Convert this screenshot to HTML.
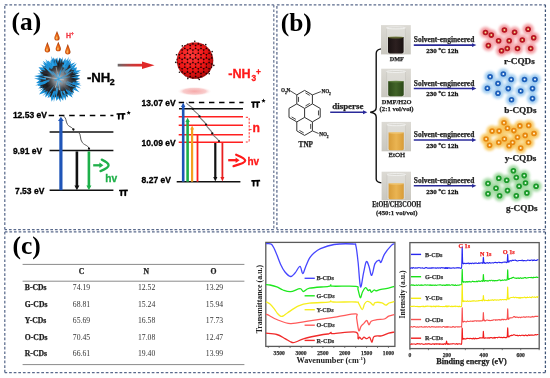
<!DOCTYPE html>
<html><head><meta charset="utf-8"><style>
html,body{margin:0;padding:0;background:#fff;}
body{width:550px;height:378px;overflow:hidden;font-family:"Liberation Sans",sans-serif;}
svg{display:block;will-change:transform;}
</style></head><body>
<svg width="550" height="378" viewBox="0 0 550 378">
<rect width="550" height="378" fill="#fff"/>
<defs>
<linearGradient id="garr" x1="0" x2="1" y1="0" y2="0"><stop offset="0" stop-color="#6a6a6a"/><stop offset="0.55" stop-color="#c83a3a"/><stop offset="1" stop-color="#e82828"/></linearGradient>
<radialGradient id="gred" cx="0.4" cy="0.36" r="0.72"><stop offset="0" stop-color="#ff3c3c"/><stop offset="0.55" stop-color="#f01616"/><stop offset="0.85" stop-color="#c00c0c"/><stop offset="1" stop-color="#900606"/></radialGradient>
<radialGradient id="gcore" cx="0.5" cy="0.5" r="0.5"><stop offset="0" stop-color="#c4c8cc"/><stop offset="0.45" stop-color="#868a90"/><stop offset="1" stop-color="#505258" stop-opacity="0"/></radialGradient>
<radialGradient id="gshadow" cx="0.5" cy="0.5" r="0.5"><stop offset="0" stop-color="#f6aaaa"/><stop offset="0.65" stop-color="#f9cccc"/><stop offset="1" stop-color="#fff" stop-opacity="0"/></radialGradient>
<radialGradient id="gdrop" cx="0.45" cy="0.65" r="0.62"><stop offset="0" stop-color="#f89838"/><stop offset="0.5" stop-color="#dc5810"/><stop offset="1" stop-color="#8a3006"/></radialGradient>
<filter id="blur1" x="-50%" y="-50%" width="200%" height="200%"><feGaussianBlur stdDeviation="1.2"/></filter>
<filter id="blur05" x="-50%" y="-50%" width="200%" height="200%"><feGaussianBlur stdDeviation="0.45"/></filter>
<filter id="blur08" x="-50%" y="-50%" width="200%" height="200%"><feGaussianBlur stdDeviation="0.9"/></filter>
<filter id="blur2" x="-50%" y="-50%" width="200%" height="200%"><feGaussianBlur stdDeviation="1.5"/></filter>
</defs>
<line x1="4.80" y1="4.80" x2="273.80" y2="4.80" stroke="#5a6a8c" stroke-width="1.25" stroke-dasharray="2.7 1.9"/>
<line x1="273.80" y1="4.80" x2="273.80" y2="229.60" stroke="#6a7896" stroke-width="1.25" stroke-dasharray="2.7 1.9"/>
<line x1="273.80" y1="229.60" x2="4.80" y2="229.60" stroke="#5a6a8c" stroke-width="1.25" stroke-dasharray="2.7 1.9"/>
<line x1="4.80" y1="229.60" x2="4.80" y2="4.80" stroke="#5a6a8c" stroke-width="1.25" stroke-dasharray="2.7 1.9"/>
<line x1="276.90" y1="4.80" x2="545.40" y2="4.80" stroke="#5a6a8c" stroke-width="1.25" stroke-dasharray="2.7 1.9"/>
<line x1="545.40" y1="4.80" x2="545.40" y2="229.60" stroke="#3e5476" stroke-width="1.25" stroke-dasharray="2.7 1.9"/>
<line x1="545.40" y1="229.60" x2="276.90" y2="229.60" stroke="#5a6a8c" stroke-width="1.25" stroke-dasharray="2.7 1.9"/>
<line x1="276.90" y1="229.60" x2="276.90" y2="4.80" stroke="#5a6a8c" stroke-width="1.25" stroke-dasharray="2.7 1.9"/>
<line x1="4.80" y1="231.90" x2="545.40" y2="231.90" stroke="#5a6a8c" stroke-width="1.25" stroke-dasharray="2.7 1.9"/>
<line x1="545.40" y1="231.90" x2="545.40" y2="372.50" stroke="#3e5476" stroke-width="1.25" stroke-dasharray="2.7 1.9"/>
<line x1="545.40" y1="372.50" x2="4.80" y2="372.50" stroke="#5a6a8c" stroke-width="1.25" stroke-dasharray="2.7 1.9"/>
<line x1="4.80" y1="372.50" x2="4.80" y2="231.90" stroke="#5a6a8c" stroke-width="1.25" stroke-dasharray="2.7 1.9"/>
<text x="11.60" y="30.30" font-family="Liberation Serif, serif" font-size="25.4" font-weight="bold" fill="#000" text-anchor="start" >(a)</text>
<text x="280.80" y="30.90" font-family="Liberation Serif, serif" font-size="25.4" font-weight="bold" fill="#000" text-anchor="start" >(b)</text>
<text x="12.60" y="254.40" font-family="Liberation Serif, serif" font-size="25.4" font-weight="bold" fill="#000" text-anchor="start" >(c)</text>
<path d="M57.00,31.00 C58.30,34.33 59.60,36.86 59.60,37.90 A2.60,2.60 0 0 1 54.40,37.90 C54.40,36.86 55.70,34.33 57.00,31.00 Z" fill="url(#gdrop)"/>
<ellipse cx="56.61" cy="38.16" rx="0.91" ry="1.30" fill="#ffc870" opacity="0.7"/>
<path d="M47.40,42.00 C48.75,45.67 50.10,48.72 50.10,49.80 A2.70,2.70 0 0 1 44.70,49.80 C44.70,48.72 46.05,45.67 47.40,42.00 Z" fill="url(#gdrop)"/>
<ellipse cx="46.99" cy="50.07" rx="0.94" ry="1.35" fill="#ffc870" opacity="0.7"/>
<path d="M58.30,41.80 C59.60,45.12 60.90,47.66 60.90,48.70 A2.60,2.60 0 0 1 55.70,48.70 C55.70,47.66 57.00,45.12 58.30,41.80 Z" fill="url(#gdrop)"/>
<ellipse cx="57.91" cy="48.96" rx="0.91" ry="1.30" fill="#ffc870" opacity="0.7"/>
<path d="M67.80,44.00 C69.15,47.67 70.50,50.72 70.50,51.80 A2.70,2.70 0 0 1 65.10,51.80 C65.10,50.72 66.45,47.67 67.80,44.00 Z" fill="url(#gdrop)"/>
<ellipse cx="67.39" cy="52.07" rx="0.94" ry="1.35" fill="#ffc870" opacity="0.7"/>
<text x="65.90" y="37.90" font-family="Liberation Sans, sans-serif" font-size="7.0" font-weight="bold" stroke="#f23844" stroke-width="0.3" fill="#f23844" text-anchor="start" >H</text>
<text x="70.90" y="35.00" font-family="Liberation Sans, sans-serif" font-size="4.6" font-weight="bold" stroke="#f23844" stroke-width="0.3" fill="#f23844" text-anchor="start" >+</text>
<g filter="url(#blur05)">
<polygon points="80.10,78.62 75.62,80.43 80.74,82.14 76.53,81.92 80.65,84.12 74.97,84.07 80.87,88.52 74.38,86.49 79.52,92.15 73.12,89.49 74.28,93.14 71.01,91.55 73.70,94.16 70.80,93.54 72.55,97.62 67.60,94.45 68.19,97.92 66.18,94.74 65.72,100.53 63.81,96.68 63.12,100.71 60.51,97.64 60.68,102.20 58.45,98.19 56.48,101.06 55.33,96.00 53.80,102.57 54.20,96.71 51.61,101.65 50.71,95.71 47.53,98.36 48.59,94.60 45.19,97.54 45.78,93.60 42.40,96.33 45.37,92.39 38.90,94.47 43.71,88.74 38.41,91.53 42.80,88.11 39.10,88.20 40.97,86.12 37.56,85.71 39.77,83.11 36.07,83.05 39.33,80.22 34.06,78.22 40.48,78.17 34.15,76.00 41.67,74.69 37.20,73.77 41.18,73.36 38.35,70.03 42.08,71.50 38.47,67.17 43.71,67.52 40.32,64.16 46.19,67.09 42.75,60.73 47.07,63.83 45.27,60.68 48.22,63.52 47.90,60.56 51.10,63.24 51.08,59.13 52.98,62.52 53.06,57.21 54.99,60.14 57.27,57.44 58.06,61.14 59.68,57.54 61.82,59.80 63.09,56.53 62.46,62.21 65.56,58.10 65.95,63.27 68.85,56.46 67.57,64.19 70.75,61.81 70.81,63.95 75.36,62.22 71.30,66.46 76.67,63.18 74.02,68.12 77.01,67.31 76.05,70.59 81.05,70.14 76.45,73.26 80.54,72.17 75.16,75.29 80.25,74.96 77.15,77.27" fill="#1f92d8" stroke="none" stroke-width="1" />
<polygon points="77.55,79.87 75.38,80.81 77.00,82.20 73.75,81.47 76.27,82.99 74.41,84.39 76.08,86.66 73.41,86.30 76.24,87.82 72.11,88.44 73.72,90.65 71.61,89.15 73.53,92.65 68.76,91.01 71.92,94.91 67.24,91.61 68.72,93.85 65.91,93.87 67.83,97.13 63.77,94.44 64.78,97.38 62.77,93.41 61.29,98.58 60.57,95.74 59.93,99.50 58.00,94.41 57.80,97.51 56.89,95.09 55.40,97.71 54.92,95.43 52.86,97.25 52.18,94.58 49.83,97.81 50.76,93.08 49.05,93.81 49.54,91.49 46.35,95.26 47.97,90.98 44.03,91.99 46.32,89.44 42.06,90.81 45.24,88.17 42.54,88.30 43.83,85.42 39.71,86.31 43.20,83.28 39.78,83.58 42.40,82.05 39.30,81.52 41.65,80.10 37.94,78.59 43.07,77.34 37.88,76.27 43.60,75.63 39.89,74.96 43.59,74.85 39.76,72.49 43.51,71.42 40.65,69.97 45.73,70.60 42.08,66.09 45.18,68.59 44.37,66.00 47.70,66.31 45.89,64.77 49.30,66.30 48.05,63.59 51.55,65.66 50.49,61.73 52.04,64.73 52.77,60.58 53.57,62.76 55.18,58.36 55.95,63.68 56.30,58.89 58.15,63.74 59.64,58.34 60.93,63.67 61.67,58.53 62.69,63.14 63.27,61.95 64.61,64.37 66.54,59.83 66.69,64.56 68.75,61.25 67.74,65.06 70.34,64.55 70.10,66.78 71.30,66.41 70.45,69.17 72.69,67.82 71.12,70.17 74.60,69.75 72.76,72.73 75.35,72.33 72.73,74.14 75.39,74.21 74.38,76.35 77.43,76.01 73.71,78.71" fill="#2a2c31" stroke="none" stroke-width="1" />
<polygon points="65.59,67.63 67.83,58.82 62.57,66.23" fill="#2aa0e4" stroke="none" stroke-width="1" />
<polygon points="71.42,77.77 79.10,75.11 70.98,75.44" fill="#1f92d8" stroke="none" stroke-width="1" />
<polygon points="66.63,67.38 69.80,59.13 64.33,66.07" fill="#2aa0e4" stroke="none" stroke-width="1" />
<polygon points="73.09,78.84 78.43,76.72 72.75,75.86" fill="#2aa0e4" stroke="none" stroke-width="1" />
<polygon points="46.92,82.95 37.65,88.69 48.02,85.31" fill="#1a86cc" stroke="none" stroke-width="1" />
<polygon points="53.43,67.13 48.40,60.48 51.27,68.31" fill="#2aa0e4" stroke="none" stroke-width="1" />
<polygon points="62.37,91.28 66.41,97.39 64.75,90.25" fill="#2aa0e4" stroke="none" stroke-width="1" />
<polygon points="72.24,78.41 79.29,75.39 71.64,74.92" fill="#2aa0e4" stroke="none" stroke-width="1" />
<polygon points="59.97,91.51 62.81,100.07 62.06,91.08" fill="#2aa0e4" stroke="none" stroke-width="1" />
<polygon points="45.92,77.78 36.23,78.61 45.88,79.78" fill="#2aa0e4" stroke="none" stroke-width="1" />
<polygon points="64.78,68.19 67.76,58.34 62.38,67.12" fill="#2aa0e4" stroke="none" stroke-width="1" />
<polygon points="52.91,90.49 50.93,100.33 55.60,91.44" fill="#1f92d8" stroke="none" stroke-width="1" />
<polygon points="51.83,66.45 45.35,58.97 49.64,67.89" fill="#2aa0e4" stroke="none" stroke-width="1" />
<polygon points="57.50,65.47 54.60,58.08 54.56,66.02" fill="#1f92d8" stroke="none" stroke-width="1" />
<polygon points="72.05,84.39 81.61,85.52 72.87,81.50" fill="#1a86cc" stroke="none" stroke-width="1" />
<polygon points="55.94,65.63 51.21,56.04 52.88,66.60" fill="#1a86cc" stroke="none" stroke-width="1" />
<polygon points="67.10,67.34 70.57,58.58 64.57,65.84" fill="#1a86cc" stroke="none" stroke-width="1" />
<polygon points="53.67,65.73 49.89,59.81 51.80,66.57" fill="#1f92d8" stroke="none" stroke-width="1" />
<polygon points="49.84,66.82 44.37,62.54 47.78,68.60" fill="#1f92d8" stroke="none" stroke-width="1" />
<polygon points="49.86,68.05 42.48,62.41 47.86,69.98" fill="#1f92d8" stroke="none" stroke-width="1" />
<polygon points="46.27,80.61 35.18,85.47 47.19,83.92" fill="#1f92d8" stroke="none" stroke-width="1" />
<polygon points="52.93,68.08 45.92,59.37 50.91,69.38" fill="#1f92d8" stroke="none" stroke-width="1" />
<polygon points="66.69,69.22 71.79,59.74 64.74,67.87" fill="#1a86cc" stroke="none" stroke-width="1" />
<polygon points="72.04,78.32 79.97,75.70 71.62,75.59" fill="#1a86cc" stroke="none" stroke-width="1" />
<polygon points="54.55,90.54 53.19,101.22 56.81,91.08" fill="#1a86cc" stroke="none" stroke-width="1" />
<polygon points="65.17,89.95 72.53,97.66 67.16,88.45" fill="#1a86cc" stroke="none" stroke-width="1" />
<polygon points="66.17,90.19 73.33,95.50 68.81,87.81" fill="#1f92d8" stroke="none" stroke-width="1" />
<polygon points="54.84,65.39 50.93,59.08 52.19,66.39" fill="#2aa0e4" stroke="none" stroke-width="1" />
<polygon points="49.34,79.57 36.56,83.78 49.94,82.29" fill="#1f92d8" stroke="none" stroke-width="1" />
<polygon points="68.33,78.97 74.46,76.79 67.97,76.36" fill="#2aa0e4" stroke="none" stroke-width="1" />
<polygon points="66.36,78.51 75.89,75.47 65.93,76.38" fill="#3a3d42" stroke="none" stroke-width="1" />
<polygon points="63.66,82.89 77.11,88.42 64.69,80.86" fill="#1f92d8" stroke="none" stroke-width="1" />
<polygon points="63.48,87.01 71.48,93.29 66.00,84.73" fill="#1f92d8" stroke="none" stroke-width="1" />
<polygon points="58.70,88.63 60.74,98.03 60.54,88.42" fill="#1c1d20" stroke="none" stroke-width="1" />
<polygon points="67.28,77.78 76.22,73.24 66.32,74.82" fill="#1c1d20" stroke="none" stroke-width="1" />
<polygon points="53.71,84.53 46.55,96.83 55.21,85.54" fill="#1f92d8" stroke="none" stroke-width="1" />
<polygon points="63.25,74.33 70.20,60.34 60.64,72.69" fill="#1f92d8" stroke="none" stroke-width="1" />
<polygon points="56.69,85.22 58.13,97.53 60.06,85.29" fill="#1c1d20" stroke="none" stroke-width="1" />
<polygon points="52.83,84.32 47.10,92.66 54.28,85.52" fill="#1c1d20" stroke="none" stroke-width="1" />
<polygon points="66.37,82.74 77.58,85.41 67.03,80.78" fill="#1f92d8" stroke="none" stroke-width="1" />
<polygon points="51.19,80.35 39.14,87.20 52.44,83.31" fill="#1c1d20" stroke="none" stroke-width="1" />
<polygon points="66.55,74.14 73.52,65.64 64.26,71.57" fill="#2aa0e4" stroke="none" stroke-width="1" />
<polygon points="50.52,74.81 42.95,74.03 49.57,77.78" fill="#1c1d20" stroke="none" stroke-width="1" />
<polygon points="54.46,73.66 42.25,64.69 52.70,75.67" fill="#2aa0e4" stroke="none" stroke-width="1" />
<polygon points="63.16,85.47 71.20,92.08 64.83,83.84" fill="#1f92d8" stroke="none" stroke-width="1" />
<polygon points="51.88,81.62 42.59,89.64 53.55,84.11" fill="#1c1d20" stroke="none" stroke-width="1" />
<polygon points="60.31,85.62 67.11,94.06 63.29,83.92" fill="#1c1d20" stroke="none" stroke-width="1" />
<polygon points="51.57,75.06 41.24,73.35 50.58,78.07" fill="#1c1d20" stroke="none" stroke-width="1" />
<polygon points="61.90,84.98 69.11,91.76 63.76,83.43" fill="#1c1d20" stroke="none" stroke-width="1" />
<polygon points="54.37,85.32 49.53,98.28 56.33,86.23" fill="#1c1d20" stroke="none" stroke-width="1" />
<polygon points="59.86,71.35 58.46,60.31 57.11,71.35" fill="#1c1d20" stroke="none" stroke-width="1" />
<polygon points="55.95,87.76 56.06,98.08 58.76,88.12" fill="#1f92d8" stroke="none" stroke-width="1" />
<polygon points="62.94,85.88 72.63,93.29 65.33,83.52" fill="#3a3d42" stroke="none" stroke-width="1" />
<polygon points="65.70,85.51 73.96,89.17 67.32,83.03" fill="#1c1d20" stroke="none" stroke-width="1" />
<polygon points="67.77,77.20 79.27,72.82 67.24,75.44" fill="#1c1d20" stroke="none" stroke-width="1" />
<polygon points="49.62,81.52 39.57,88.61 51.23,84.68" fill="#1c1d20" stroke="none" stroke-width="1" />
<polygon points="66.06,80.65 80.52,79.02 66.07,77.37" fill="#1c1d20" stroke="none" stroke-width="1" />
<polygon points="65.57,78.81 74.96,76.10 65.21,76.76" fill="#2aa0e4" stroke="none" stroke-width="1" />
<polygon points="65.10,79.38 79.53,75.25 64.57,76.36" fill="#1c1d20" stroke="none" stroke-width="1" />
<polygon points="65.82,84.51 72.28,87.15 66.85,82.76" fill="#2aa0e4" stroke="none" stroke-width="1" />
<polygon points="66.51,75.75 74.25,70.33 65.53,73.97" fill="#1f92d8" stroke="none" stroke-width="1" />
<polygon points="51.05,76.66 37.86,75.30 50.70,78.61" fill="#1f92d8" stroke="none" stroke-width="1" />
<circle cx="59.5" cy="79.0" r="14" fill="url(#gcore)" opacity="0.9"/>
<line x1="64.13" y1="79.87" x2="44.42" y2="76.82" stroke="#c8ccd0" stroke-width="0.7304409400507176" opacity="0.8"/>
<line x1="57.59" y1="82.49" x2="60.77" y2="70.28" stroke="#1f90d6" stroke-width="1.0981870258625248" opacity="0.8"/>
<line x1="59.35" y1="74.34" x2="56.38" y2="90.66" stroke="#3aa8e8" stroke-width="0.8376521100337718" opacity="0.8"/>
<line x1="58.07" y1="74.53" x2="59.57" y2="90.17" stroke="#c8ccd0" stroke-width="0.9523268314065412" opacity="0.8"/>
<line x1="59.80" y1="75.56" x2="55.25" y2="87.60" stroke="#c8ccd0" stroke-width="1.0424242625924323" opacity="0.8"/>
<line x1="60.84" y1="82.11" x2="52.64" y2="71.23" stroke="#3aa8e8" stroke-width="0.9336775244188398" opacity="0.8"/>
<line x1="54.56" y1="81.00" x2="68.34" y2="74.00" stroke="#2a9ee0" stroke-width="0.9479113926665916" opacity="0.8"/>
<line x1="59.47" y1="83.81" x2="56.08" y2="66.98" stroke="#c8ccd0" stroke-width="0.6990398191167171" opacity="0.8"/>
<line x1="56.68" y1="84.99" x2="63.06" y2="64.03" stroke="#2a9ee0" stroke-width="0.7026092935193167" opacity="0.8"/>
<line x1="53.86" y1="79.89" x2="70.09" y2="76.78" stroke="#3aa8e8" stroke-width="0.7154044064324874" opacity="0.8"/>
<line x1="57.37" y1="72.76" x2="61.33" y2="94.59" stroke="#1f90d6" stroke-width="0.6545040329990047" opacity="0.8"/>
<line x1="62.63" y1="83.06" x2="48.16" y2="68.84" stroke="#3aa8e8" stroke-width="0.8425263688602637" opacity="0.8"/>
</g>
<text x="86.90" y="81.50" font-family="Liberation Sans, sans-serif" font-size="13.2" font-weight="bold" stroke="#000" stroke-width="0.3" fill="#000" text-anchor="start" >-NH</text>
<text x="109.80" y="84.70" font-family="Liberation Sans, sans-serif" font-size="8.8" font-weight="bold" stroke="#000" stroke-width="0.3" fill="#000" text-anchor="start" >2</text>
<rect x="117.7" y="63.8" width="26" height="2.7" fill="url(#garr)"/>
<polygon points="142.00,61.60 154.50,65.15 142.00,68.90" fill="#e02828" stroke="none" stroke-width="1" />
<ellipse cx="194.5" cy="91.3" rx="17.5" ry="4.6" fill="url(#gshadow)" filter="url(#blur05)"/>
<circle cx="195" cy="60.6" r="18.2" fill="url(#gred)"/>
<clipPath id="cball"><circle cx="195" cy="60.6" r="18.5"/></clipPath>
<g clip-path="url(#cball)">
<path d="M165.90,34.50 L163.20,36.06 L160.50,34.50 L160.50,31.38 L163.20,29.82 L165.90,31.38 Z M171.30,34.50 L168.60,36.06 L165.90,34.50 L165.90,31.38 L168.60,29.82 L171.30,31.38 Z M176.70,34.50 L174.00,36.06 L171.30,34.50 L171.30,31.38 L174.00,29.82 L176.70,31.38 Z M182.10,34.50 L179.40,36.06 L176.70,34.50 L176.70,31.38 L179.40,29.82 L182.10,31.38 Z M187.50,34.50 L184.80,36.06 L182.10,34.50 L182.10,31.38 L184.80,29.82 L187.50,31.38 Z M192.90,34.50 L190.20,36.06 L187.50,34.50 L187.50,31.38 L190.20,29.82 L192.90,31.38 Z M198.30,34.50 L195.60,36.06 L192.90,34.50 L192.90,31.38 L195.60,29.82 L198.30,31.38 Z M203.70,34.50 L201.00,36.06 L198.30,34.50 L198.30,31.38 L201.00,29.82 L203.70,31.38 Z M209.10,34.50 L206.40,36.06 L203.70,34.50 L203.70,31.38 L206.40,29.82 L209.10,31.38 Z M214.50,34.50 L211.80,36.06 L209.10,34.50 L209.10,31.38 L211.80,29.82 L214.50,31.38 Z M219.90,34.50 L217.20,36.06 L214.50,34.50 L214.50,31.38 L217.20,29.82 L219.90,31.38 Z M225.30,34.50 L222.60,36.06 L219.90,34.50 L219.90,31.38 L222.60,29.82 L225.30,31.38 Z M230.70,34.50 L228.00,36.06 L225.30,34.50 L225.30,31.38 L228.00,29.82 L230.70,31.38 Z M168.60,39.18 L165.90,40.74 L163.20,39.18 L163.20,36.06 L165.90,34.50 L168.60,36.06 Z M174.00,39.18 L171.30,40.74 L168.60,39.18 L168.60,36.06 L171.30,34.50 L174.00,36.06 Z M179.40,39.18 L176.70,40.74 L174.00,39.18 L174.00,36.06 L176.70,34.50 L179.40,36.06 Z M184.80,39.18 L182.10,40.74 L179.40,39.18 L179.40,36.06 L182.10,34.50 L184.80,36.06 Z M190.20,39.18 L187.50,40.74 L184.80,39.18 L184.80,36.06 L187.50,34.50 L190.20,36.06 Z M195.60,39.18 L192.90,40.74 L190.20,39.18 L190.20,36.06 L192.90,34.50 L195.60,36.06 Z M201.00,39.18 L198.30,40.74 L195.60,39.18 L195.60,36.06 L198.30,34.50 L201.00,36.06 Z M206.40,39.18 L203.70,40.74 L201.00,39.18 L201.00,36.06 L203.70,34.50 L206.40,36.06 Z M211.80,39.18 L209.10,40.74 L206.40,39.18 L206.40,36.06 L209.10,34.50 L211.80,36.06 Z M217.20,39.18 L214.50,40.74 L211.80,39.18 L211.80,36.06 L214.50,34.50 L217.20,36.06 Z M222.60,39.18 L219.90,40.74 L217.20,39.18 L217.20,36.06 L219.90,34.50 L222.60,36.06 Z M228.00,39.18 L225.30,40.74 L222.60,39.18 L222.60,36.06 L225.30,34.50 L228.00,36.06 Z M233.40,39.18 L230.70,40.74 L228.00,39.18 L228.00,36.06 L230.70,34.50 L233.40,36.06 Z M165.90,43.85 L163.20,45.41 L160.50,43.85 L160.50,40.74 L163.20,39.18 L165.90,40.74 Z M171.30,43.85 L168.60,45.41 L165.90,43.85 L165.90,40.74 L168.60,39.18 L171.30,40.74 Z M176.70,43.85 L174.00,45.41 L171.30,43.85 L171.30,40.74 L174.00,39.18 L176.70,40.74 Z M182.10,43.85 L179.40,45.41 L176.70,43.85 L176.70,40.74 L179.40,39.18 L182.10,40.74 Z M187.50,43.85 L184.80,45.41 L182.10,43.85 L182.10,40.74 L184.80,39.18 L187.50,40.74 Z M192.90,43.85 L190.20,45.41 L187.50,43.85 L187.50,40.74 L190.20,39.18 L192.90,40.74 Z M198.30,43.85 L195.60,45.41 L192.90,43.85 L192.90,40.74 L195.60,39.18 L198.30,40.74 Z M203.70,43.85 L201.00,45.41 L198.30,43.85 L198.30,40.74 L201.00,39.18 L203.70,40.74 Z M209.10,43.85 L206.40,45.41 L203.70,43.85 L203.70,40.74 L206.40,39.18 L209.10,40.74 Z M214.50,43.85 L211.80,45.41 L209.10,43.85 L209.10,40.74 L211.80,39.18 L214.50,40.74 Z M219.90,43.85 L217.20,45.41 L214.50,43.85 L214.50,40.74 L217.20,39.18 L219.90,40.74 Z M225.30,43.85 L222.60,45.41 L219.90,43.85 L219.90,40.74 L222.60,39.18 L225.30,40.74 Z M230.70,43.85 L228.00,45.41 L225.30,43.85 L225.30,40.74 L228.00,39.18 L230.70,40.74 Z M168.60,48.53 L165.90,50.09 L163.20,48.53 L163.20,45.41 L165.90,43.85 L168.60,45.41 Z M174.00,48.53 L171.30,50.09 L168.60,48.53 L168.60,45.41 L171.30,43.85 L174.00,45.41 Z M179.40,48.53 L176.70,50.09 L174.00,48.53 L174.00,45.41 L176.70,43.85 L179.40,45.41 Z M184.80,48.53 L182.10,50.09 L179.40,48.53 L179.40,45.41 L182.10,43.85 L184.80,45.41 Z M190.20,48.53 L187.50,50.09 L184.80,48.53 L184.80,45.41 L187.50,43.85 L190.20,45.41 Z M195.60,48.53 L192.90,50.09 L190.20,48.53 L190.20,45.41 L192.90,43.85 L195.60,45.41 Z M201.00,48.53 L198.30,50.09 L195.60,48.53 L195.60,45.41 L198.30,43.85 L201.00,45.41 Z M206.40,48.53 L203.70,50.09 L201.00,48.53 L201.00,45.41 L203.70,43.85 L206.40,45.41 Z M211.80,48.53 L209.10,50.09 L206.40,48.53 L206.40,45.41 L209.10,43.85 L211.80,45.41 Z M217.20,48.53 L214.50,50.09 L211.80,48.53 L211.80,45.41 L214.50,43.85 L217.20,45.41 Z M222.60,48.53 L219.90,50.09 L217.20,48.53 L217.20,45.41 L219.90,43.85 L222.60,45.41 Z M228.00,48.53 L225.30,50.09 L222.60,48.53 L222.60,45.41 L225.30,43.85 L228.00,45.41 Z M233.40,48.53 L230.70,50.09 L228.00,48.53 L228.00,45.41 L230.70,43.85 L233.40,45.41 Z M165.90,53.21 L163.20,54.76 L160.50,53.21 L160.50,50.09 L163.20,48.53 L165.90,50.09 Z M171.30,53.21 L168.60,54.76 L165.90,53.21 L165.90,50.09 L168.60,48.53 L171.30,50.09 Z M176.70,53.21 L174.00,54.76 L171.30,53.21 L171.30,50.09 L174.00,48.53 L176.70,50.09 Z M182.10,53.21 L179.40,54.76 L176.70,53.21 L176.70,50.09 L179.40,48.53 L182.10,50.09 Z M187.50,53.21 L184.80,54.76 L182.10,53.21 L182.10,50.09 L184.80,48.53 L187.50,50.09 Z M192.90,53.21 L190.20,54.76 L187.50,53.21 L187.50,50.09 L190.20,48.53 L192.90,50.09 Z M198.30,53.21 L195.60,54.76 L192.90,53.21 L192.90,50.09 L195.60,48.53 L198.30,50.09 Z M203.70,53.21 L201.00,54.76 L198.30,53.21 L198.30,50.09 L201.00,48.53 L203.70,50.09 Z M209.10,53.21 L206.40,54.76 L203.70,53.21 L203.70,50.09 L206.40,48.53 L209.10,50.09 Z M214.50,53.21 L211.80,54.76 L209.10,53.21 L209.10,50.09 L211.80,48.53 L214.50,50.09 Z M219.90,53.21 L217.20,54.76 L214.50,53.21 L214.50,50.09 L217.20,48.53 L219.90,50.09 Z M225.30,53.21 L222.60,54.76 L219.90,53.21 L219.90,50.09 L222.60,48.53 L225.30,50.09 Z M230.70,53.21 L228.00,54.76 L225.30,53.21 L225.30,50.09 L228.00,48.53 L230.70,50.09 Z M168.60,57.88 L165.90,59.44 L163.20,57.88 L163.20,54.76 L165.90,53.21 L168.60,54.76 Z M174.00,57.88 L171.30,59.44 L168.60,57.88 L168.60,54.76 L171.30,53.21 L174.00,54.76 Z M179.40,57.88 L176.70,59.44 L174.00,57.88 L174.00,54.76 L176.70,53.21 L179.40,54.76 Z M184.80,57.88 L182.10,59.44 L179.40,57.88 L179.40,54.76 L182.10,53.21 L184.80,54.76 Z M190.20,57.88 L187.50,59.44 L184.80,57.88 L184.80,54.76 L187.50,53.21 L190.20,54.76 Z M195.60,57.88 L192.90,59.44 L190.20,57.88 L190.20,54.76 L192.90,53.21 L195.60,54.76 Z M201.00,57.88 L198.30,59.44 L195.60,57.88 L195.60,54.76 L198.30,53.21 L201.00,54.76 Z M206.40,57.88 L203.70,59.44 L201.00,57.88 L201.00,54.76 L203.70,53.21 L206.40,54.76 Z M211.80,57.88 L209.10,59.44 L206.40,57.88 L206.40,54.76 L209.10,53.21 L211.80,54.76 Z M217.20,57.88 L214.50,59.44 L211.80,57.88 L211.80,54.76 L214.50,53.21 L217.20,54.76 Z M222.60,57.88 L219.90,59.44 L217.20,57.88 L217.20,54.76 L219.90,53.21 L222.60,54.76 Z M228.00,57.88 L225.30,59.44 L222.60,57.88 L222.60,54.76 L225.30,53.21 L228.00,54.76 Z M233.40,57.88 L230.70,59.44 L228.00,57.88 L228.00,54.76 L230.70,53.21 L233.40,54.76 Z M165.90,62.56 L163.20,64.12 L160.50,62.56 L160.50,59.44 L163.20,57.88 L165.90,59.44 Z M171.30,62.56 L168.60,64.12 L165.90,62.56 L165.90,59.44 L168.60,57.88 L171.30,59.44 Z M176.70,62.56 L174.00,64.12 L171.30,62.56 L171.30,59.44 L174.00,57.88 L176.70,59.44 Z M182.10,62.56 L179.40,64.12 L176.70,62.56 L176.70,59.44 L179.40,57.88 L182.10,59.44 Z M187.50,62.56 L184.80,64.12 L182.10,62.56 L182.10,59.44 L184.80,57.88 L187.50,59.44 Z M192.90,62.56 L190.20,64.12 L187.50,62.56 L187.50,59.44 L190.20,57.88 L192.90,59.44 Z M198.30,62.56 L195.60,64.12 L192.90,62.56 L192.90,59.44 L195.60,57.88 L198.30,59.44 Z M203.70,62.56 L201.00,64.12 L198.30,62.56 L198.30,59.44 L201.00,57.88 L203.70,59.44 Z M209.10,62.56 L206.40,64.12 L203.70,62.56 L203.70,59.44 L206.40,57.88 L209.10,59.44 Z M214.50,62.56 L211.80,64.12 L209.10,62.56 L209.10,59.44 L211.80,57.88 L214.50,59.44 Z M219.90,62.56 L217.20,64.12 L214.50,62.56 L214.50,59.44 L217.20,57.88 L219.90,59.44 Z M225.30,62.56 L222.60,64.12 L219.90,62.56 L219.90,59.44 L222.60,57.88 L225.30,59.44 Z M230.70,62.56 L228.00,64.12 L225.30,62.56 L225.30,59.44 L228.00,57.88 L230.70,59.44 Z M168.60,67.24 L165.90,68.79 L163.20,67.24 L163.20,64.12 L165.90,62.56 L168.60,64.12 Z M174.00,67.24 L171.30,68.79 L168.60,67.24 L168.60,64.12 L171.30,62.56 L174.00,64.12 Z M179.40,67.24 L176.70,68.79 L174.00,67.24 L174.00,64.12 L176.70,62.56 L179.40,64.12 Z M184.80,67.24 L182.10,68.79 L179.40,67.24 L179.40,64.12 L182.10,62.56 L184.80,64.12 Z M190.20,67.24 L187.50,68.79 L184.80,67.24 L184.80,64.12 L187.50,62.56 L190.20,64.12 Z M195.60,67.24 L192.90,68.79 L190.20,67.24 L190.20,64.12 L192.90,62.56 L195.60,64.12 Z M201.00,67.24 L198.30,68.79 L195.60,67.24 L195.60,64.12 L198.30,62.56 L201.00,64.12 Z M206.40,67.24 L203.70,68.79 L201.00,67.24 L201.00,64.12 L203.70,62.56 L206.40,64.12 Z M211.80,67.24 L209.10,68.79 L206.40,67.24 L206.40,64.12 L209.10,62.56 L211.80,64.12 Z M217.20,67.24 L214.50,68.79 L211.80,67.24 L211.80,64.12 L214.50,62.56 L217.20,64.12 Z M222.60,67.24 L219.90,68.79 L217.20,67.24 L217.20,64.12 L219.90,62.56 L222.60,64.12 Z M228.00,67.24 L225.30,68.79 L222.60,67.24 L222.60,64.12 L225.30,62.56 L228.00,64.12 Z M233.40,67.24 L230.70,68.79 L228.00,67.24 L228.00,64.12 L230.70,62.56 L233.40,64.12 Z M165.90,71.91 L163.20,73.47 L160.50,71.91 L160.50,68.79 L163.20,67.24 L165.90,68.79 Z M171.30,71.91 L168.60,73.47 L165.90,71.91 L165.90,68.79 L168.60,67.24 L171.30,68.79 Z M176.70,71.91 L174.00,73.47 L171.30,71.91 L171.30,68.79 L174.00,67.24 L176.70,68.79 Z M182.10,71.91 L179.40,73.47 L176.70,71.91 L176.70,68.79 L179.40,67.24 L182.10,68.79 Z M187.50,71.91 L184.80,73.47 L182.10,71.91 L182.10,68.79 L184.80,67.24 L187.50,68.79 Z M192.90,71.91 L190.20,73.47 L187.50,71.91 L187.50,68.79 L190.20,67.24 L192.90,68.79 Z M198.30,71.91 L195.60,73.47 L192.90,71.91 L192.90,68.79 L195.60,67.24 L198.30,68.79 Z M203.70,71.91 L201.00,73.47 L198.30,71.91 L198.30,68.79 L201.00,67.24 L203.70,68.79 Z M209.10,71.91 L206.40,73.47 L203.70,71.91 L203.70,68.79 L206.40,67.24 L209.10,68.79 Z M214.50,71.91 L211.80,73.47 L209.10,71.91 L209.10,68.79 L211.80,67.24 L214.50,68.79 Z M219.90,71.91 L217.20,73.47 L214.50,71.91 L214.50,68.79 L217.20,67.24 L219.90,68.79 Z M225.30,71.91 L222.60,73.47 L219.90,71.91 L219.90,68.79 L222.60,67.24 L225.30,68.79 Z M230.70,71.91 L228.00,73.47 L225.30,71.91 L225.30,68.79 L228.00,67.24 L230.70,68.79 Z M168.60,76.59 L165.90,78.15 L163.20,76.59 L163.20,73.47 L165.90,71.91 L168.60,73.47 Z M174.00,76.59 L171.30,78.15 L168.60,76.59 L168.60,73.47 L171.30,71.91 L174.00,73.47 Z M179.40,76.59 L176.70,78.15 L174.00,76.59 L174.00,73.47 L176.70,71.91 L179.40,73.47 Z M184.80,76.59 L182.10,78.15 L179.40,76.59 L179.40,73.47 L182.10,71.91 L184.80,73.47 Z M190.20,76.59 L187.50,78.15 L184.80,76.59 L184.80,73.47 L187.50,71.91 L190.20,73.47 Z M195.60,76.59 L192.90,78.15 L190.20,76.59 L190.20,73.47 L192.90,71.91 L195.60,73.47 Z M201.00,76.59 L198.30,78.15 L195.60,76.59 L195.60,73.47 L198.30,71.91 L201.00,73.47 Z M206.40,76.59 L203.70,78.15 L201.00,76.59 L201.00,73.47 L203.70,71.91 L206.40,73.47 Z M211.80,76.59 L209.10,78.15 L206.40,76.59 L206.40,73.47 L209.10,71.91 L211.80,73.47 Z M217.20,76.59 L214.50,78.15 L211.80,76.59 L211.80,73.47 L214.50,71.91 L217.20,73.47 Z M222.60,76.59 L219.90,78.15 L217.20,76.59 L217.20,73.47 L219.90,71.91 L222.60,73.47 Z M228.00,76.59 L225.30,78.15 L222.60,76.59 L222.60,73.47 L225.30,71.91 L228.00,73.47 Z M233.40,76.59 L230.70,78.15 L228.00,76.59 L228.00,73.47 L230.70,71.91 L233.40,73.47 Z M165.90,81.26 L163.20,82.82 L160.50,81.26 L160.50,78.15 L163.20,76.59 L165.90,78.15 Z M171.30,81.26 L168.60,82.82 L165.90,81.26 L165.90,78.15 L168.60,76.59 L171.30,78.15 Z M176.70,81.26 L174.00,82.82 L171.30,81.26 L171.30,78.15 L174.00,76.59 L176.70,78.15 Z M182.10,81.26 L179.40,82.82 L176.70,81.26 L176.70,78.15 L179.40,76.59 L182.10,78.15 Z M187.50,81.26 L184.80,82.82 L182.10,81.26 L182.10,78.15 L184.80,76.59 L187.50,78.15 Z M192.90,81.26 L190.20,82.82 L187.50,81.26 L187.50,78.15 L190.20,76.59 L192.90,78.15 Z M198.30,81.26 L195.60,82.82 L192.90,81.26 L192.90,78.15 L195.60,76.59 L198.30,78.15 Z M203.70,81.26 L201.00,82.82 L198.30,81.26 L198.30,78.15 L201.00,76.59 L203.70,78.15 Z M209.10,81.26 L206.40,82.82 L203.70,81.26 L203.70,78.15 L206.40,76.59 L209.10,78.15 Z M214.50,81.26 L211.80,82.82 L209.10,81.26 L209.10,78.15 L211.80,76.59 L214.50,78.15 Z M219.90,81.26 L217.20,82.82 L214.50,81.26 L214.50,78.15 L217.20,76.59 L219.90,78.15 Z M225.30,81.26 L222.60,82.82 L219.90,81.26 L219.90,78.15 L222.60,76.59 L225.30,78.15 Z M230.70,81.26 L228.00,82.82 L225.30,81.26 L225.30,78.15 L228.00,76.59 L230.70,78.15 Z M168.60,85.94 L165.90,87.50 L163.20,85.94 L163.20,82.82 L165.90,81.26 L168.60,82.82 Z M174.00,85.94 L171.30,87.50 L168.60,85.94 L168.60,82.82 L171.30,81.26 L174.00,82.82 Z M179.40,85.94 L176.70,87.50 L174.00,85.94 L174.00,82.82 L176.70,81.26 L179.40,82.82 Z M184.80,85.94 L182.10,87.50 L179.40,85.94 L179.40,82.82 L182.10,81.26 L184.80,82.82 Z M190.20,85.94 L187.50,87.50 L184.80,85.94 L184.80,82.82 L187.50,81.26 L190.20,82.82 Z M195.60,85.94 L192.90,87.50 L190.20,85.94 L190.20,82.82 L192.90,81.26 L195.60,82.82 Z M201.00,85.94 L198.30,87.50 L195.60,85.94 L195.60,82.82 L198.30,81.26 L201.00,82.82 Z M206.40,85.94 L203.70,87.50 L201.00,85.94 L201.00,82.82 L203.70,81.26 L206.40,82.82 Z M211.80,85.94 L209.10,87.50 L206.40,85.94 L206.40,82.82 L209.10,81.26 L211.80,82.82 Z M217.20,85.94 L214.50,87.50 L211.80,85.94 L211.80,82.82 L214.50,81.26 L217.20,82.82 Z M222.60,85.94 L219.90,87.50 L217.20,85.94 L217.20,82.82 L219.90,81.26 L222.60,82.82 Z M228.00,85.94 L225.30,87.50 L222.60,85.94 L222.60,82.82 L225.30,81.26 L228.00,82.82 Z M233.40,85.94 L230.70,87.50 L228.00,85.94 L228.00,82.82 L230.70,81.26 L233.40,82.82 Z M165.90,90.62 L163.20,92.18 L160.50,90.62 L160.50,87.50 L163.20,85.94 L165.90,87.50 Z M171.30,90.62 L168.60,92.18 L165.90,90.62 L165.90,87.50 L168.60,85.94 L171.30,87.50 Z M176.70,90.62 L174.00,92.18 L171.30,90.62 L171.30,87.50 L174.00,85.94 L176.70,87.50 Z M182.10,90.62 L179.40,92.18 L176.70,90.62 L176.70,87.50 L179.40,85.94 L182.10,87.50 Z M187.50,90.62 L184.80,92.18 L182.10,90.62 L182.10,87.50 L184.80,85.94 L187.50,87.50 Z M192.90,90.62 L190.20,92.18 L187.50,90.62 L187.50,87.50 L190.20,85.94 L192.90,87.50 Z M198.30,90.62 L195.60,92.18 L192.90,90.62 L192.90,87.50 L195.60,85.94 L198.30,87.50 Z M203.70,90.62 L201.00,92.18 L198.30,90.62 L198.30,87.50 L201.00,85.94 L203.70,87.50 Z M209.10,90.62 L206.40,92.18 L203.70,90.62 L203.70,87.50 L206.40,85.94 L209.10,87.50 Z M214.50,90.62 L211.80,92.18 L209.10,90.62 L209.10,87.50 L211.80,85.94 L214.50,87.50 Z M219.90,90.62 L217.20,92.18 L214.50,90.62 L214.50,87.50 L217.20,85.94 L219.90,87.50 Z M225.30,90.62 L222.60,92.18 L219.90,90.62 L219.90,87.50 L222.60,85.94 L225.30,87.50 Z M230.70,90.62 L228.00,92.18 L225.30,90.62 L225.30,87.50 L228.00,85.94 L230.70,87.50 Z" fill="none" stroke="#3a0808" stroke-width="0.45" opacity="0.3"/>
<circle cx="203.7" cy="53.2" r="0.8" fill="#1a0303"/>
<circle cx="209.1" cy="53.2" r="0.8" fill="#1a0303"/>
<circle cx="187.5" cy="71.9" r="0.8" fill="#1a0303"/>
<circle cx="179.4" cy="54.8" r="0.8" fill="#1a0303"/>
<circle cx="198.3" cy="68.8" r="0.8" fill="#1a0303"/>
<circle cx="190.2" cy="64.1" r="0.8" fill="#1a0303"/>
<circle cx="182.1" cy="53.2" r="0.8" fill="#1a0303"/>
<circle cx="182.1" cy="50.1" r="0.8" fill="#1a0303"/>
<circle cx="187.5" cy="59.4" r="0.8" fill="#1a0303"/>
<circle cx="192.9" cy="68.8" r="0.8" fill="#1a0303"/>
<circle cx="198.3" cy="43.9" r="0.8" fill="#1a0303"/>
<circle cx="195.6" cy="57.9" r="0.8" fill="#1a0303"/>
<circle cx="195.6" cy="54.8" r="0.8" fill="#1a0303"/>
<circle cx="201.0" cy="57.9" r="0.8" fill="#1a0303"/>
<circle cx="201.0" cy="54.8" r="0.8" fill="#1a0303"/>
<circle cx="195.6" cy="73.5" r="0.8" fill="#1a0303"/>
<circle cx="192.9" cy="43.9" r="0.8" fill="#1a0303"/>
<circle cx="206.4" cy="48.5" r="0.8" fill="#1a0303"/>
<circle cx="201.0" cy="73.5" r="0.8" fill="#1a0303"/>
<circle cx="206.4" cy="45.4" r="0.8" fill="#1a0303"/>
<circle cx="203.7" cy="59.4" r="0.8" fill="#1a0303"/>
<circle cx="184.8" cy="57.9" r="0.8" fill="#1a0303"/>
<circle cx="182.1" cy="71.9" r="0.8" fill="#1a0303"/>
<circle cx="209.1" cy="59.4" r="0.8" fill="#1a0303"/>
<circle cx="192.9" cy="62.6" r="0.8" fill="#1a0303"/>
<circle cx="211.8" cy="64.1" r="0.8" fill="#1a0303"/>
<circle cx="190.2" cy="57.9" r="0.8" fill="#1a0303"/>
<circle cx="190.2" cy="54.8" r="0.8" fill="#1a0303"/>
<circle cx="182.1" cy="59.4" r="0.8" fill="#1a0303"/>
<circle cx="176.7" cy="59.4" r="0.8" fill="#1a0303"/>
<circle cx="190.2" cy="73.5" r="0.8" fill="#1a0303"/>
<circle cx="187.5" cy="43.9" r="0.8" fill="#1a0303"/>
<circle cx="203.7" cy="50.1" r="0.8" fill="#1a0303"/>
<circle cx="179.4" cy="67.2" r="0.8" fill="#1a0303"/>
<circle cx="184.8" cy="64.1" r="0.8" fill="#1a0303"/>
<circle cx="209.1" cy="50.1" r="0.8" fill="#1a0303"/>
<circle cx="187.5" cy="62.6" r="0.8" fill="#1a0303"/>
<circle cx="187.5" cy="78.1" r="0.8" fill="#1a0303"/>
<circle cx="195.6" cy="48.5" r="0.8" fill="#1a0303"/>
<circle cx="195.6" cy="76.6" r="0.8" fill="#1a0303"/>
<circle cx="201.0" cy="48.5" r="0.8" fill="#1a0303"/>
<circle cx="201.0" cy="76.6" r="0.8" fill="#1a0303"/>
<circle cx="198.3" cy="53.2" r="0.8" fill="#1a0303"/>
<circle cx="198.3" cy="50.1" r="0.8" fill="#1a0303"/>
<circle cx="195.6" cy="67.2" r="0.8" fill="#1a0303"/>
<circle cx="201.0" cy="67.2" r="0.8" fill="#1a0303"/>
<circle cx="206.4" cy="64.1" r="0.8" fill="#1a0303"/>
<circle cx="203.7" cy="71.9" r="0.8" fill="#1a0303"/>
<circle cx="211.8" cy="57.9" r="0.8" fill="#1a0303"/>
<circle cx="209.1" cy="71.9" r="0.8" fill="#1a0303"/>
<circle cx="211.8" cy="54.8" r="0.8" fill="#1a0303"/>
<circle cx="192.9" cy="53.2" r="0.8" fill="#1a0303"/>
<circle cx="190.2" cy="76.6" r="0.8" fill="#1a0303"/>
<circle cx="184.8" cy="54.8" r="0.8" fill="#1a0303"/>
<circle cx="179.4" cy="64.1" r="0.8" fill="#1a0303"/>
<circle cx="198.3" cy="71.9" r="0.8" fill="#1a0303"/>
<circle cx="182.1" cy="62.6" r="0.8" fill="#1a0303"/>
<circle cx="187.5" cy="68.8" r="0.8" fill="#1a0303"/>
<circle cx="184.8" cy="73.5" r="0.8" fill="#1a0303"/>
<circle cx="198.3" cy="59.4" r="0.8" fill="#1a0303"/>
<circle cx="206.4" cy="57.9" r="0.8" fill="#1a0303"/>
<circle cx="206.4" cy="54.8" r="0.8" fill="#1a0303"/>
<circle cx="203.7" cy="68.8" r="0.8" fill="#1a0303"/>
<circle cx="209.1" cy="68.8" r="0.8" fill="#1a0303"/>
<circle cx="192.9" cy="59.4" r="0.8" fill="#1a0303"/>
<circle cx="206.4" cy="73.5" r="0.8" fill="#1a0303"/>
<circle cx="195.6" cy="45.4" r="0.8" fill="#1a0303"/>
<circle cx="201.0" cy="45.4" r="0.8" fill="#1a0303"/>
<circle cx="203.7" cy="43.9" r="0.8" fill="#1a0303"/>
<circle cx="179.4" cy="57.9" r="0.8" fill="#1a0303"/>
<circle cx="182.1" cy="68.8" r="0.8" fill="#1a0303"/>
<circle cx="211.8" cy="67.2" r="0.8" fill="#1a0303"/>
<circle cx="203.7" cy="62.6" r="0.8" fill="#1a0303"/>
<circle cx="184.8" cy="48.5" r="0.8" fill="#1a0303"/>
<circle cx="184.8" cy="45.4" r="0.8" fill="#1a0303"/>
<circle cx="184.8" cy="76.6" r="0.8" fill="#1a0303"/>
<circle cx="209.1" cy="62.6" r="0.8" fill="#1a0303"/>
<circle cx="192.9" cy="50.1" r="0.8" fill="#1a0303"/>
<circle cx="184.8" cy="67.2" r="0.8" fill="#1a0303"/>
<circle cx="190.2" cy="48.5" r="0.8" fill="#1a0303"/>
<circle cx="190.2" cy="45.4" r="0.8" fill="#1a0303"/>
<circle cx="176.7" cy="62.6" r="0.8" fill="#1a0303"/>
<circle cx="198.3" cy="62.6" r="0.8" fill="#1a0303"/>
<circle cx="198.3" cy="78.1" r="0.8" fill="#1a0303"/>
<circle cx="190.2" cy="67.2" r="0.8" fill="#1a0303"/>
<circle cx="192.9" cy="71.9" r="0.8" fill="#1a0303"/>
<circle cx="187.5" cy="53.2" r="0.8" fill="#1a0303"/>
<circle cx="187.5" cy="50.1" r="0.8" fill="#1a0303"/>
<circle cx="192.9" cy="78.1" r="0.8" fill="#1a0303"/>
<circle cx="206.4" cy="67.2" r="0.8" fill="#1a0303"/>
<circle cx="195.6" cy="64.1" r="0.8" fill="#1a0303"/>
<circle cx="201.0" cy="64.1" r="0.8" fill="#1a0303"/>
<circle cx="195" cy="60.6" r="18.2" fill="none" stroke="#600" stroke-width="2" opacity="0.25"/>
</g>
<circle cx="213.80" cy="65.40" r="0.8" fill="#1a0a0a"/>
<circle cx="209.19" cy="73.82" r="0.8" fill="#1a0a0a"/>
<circle cx="199.25" cy="79.53" r="0.8" fill="#1a0a0a"/>
<circle cx="187.82" cy="78.62" r="0.8" fill="#1a0a0a"/>
<circle cx="179.46" cy="72.21" r="0.8" fill="#1a0a0a"/>
<circle cx="175.68" cy="62.37" r="0.8" fill="#1a0a0a"/>
<circle cx="176.52" cy="54.71" r="0.8" fill="#1a0a0a"/>
<circle cx="182.32" cy="45.92" r="0.8" fill="#1a0a0a"/>
<circle cx="194.76" cy="41.20" r="0.8" fill="#1a0a0a"/>
<circle cx="205.75" cy="44.45" r="0.8" fill="#1a0a0a"/>
<circle cx="212.18" cy="51.59" r="0.8" fill="#1a0a0a"/>
<text x="228.30" y="77.60" font-family="Liberation Sans, sans-serif" font-size="12.6" font-weight="bold" stroke="#ff1a1a" stroke-width="0.3" fill="#ff1a1a" text-anchor="start" >-NH</text>
<text x="251.60" y="81.30" font-family="Liberation Sans, sans-serif" font-size="8.4" font-weight="bold" stroke="#ff1a1a" stroke-width="0.3" fill="#ff1a1a" text-anchor="start" >3</text>
<text x="256.00" y="74.60" font-family="Liberation Sans, sans-serif" font-size="8.4" font-weight="bold" stroke="#ff1a1a" stroke-width="0.3" fill="#ff1a1a" text-anchor="start" >+</text>
<text x="12.90" y="118.20" font-family="Liberation Sans, sans-serif" font-size="8.5" font-weight="bold" stroke="#000" stroke-width="0.3" fill="#000" text-anchor="start" >12.53 eV</text>
<text x="12.90" y="153.60" font-family="Liberation Sans, sans-serif" font-size="8.5" font-weight="bold" stroke="#000" stroke-width="0.3" fill="#000" text-anchor="start" >9.91 eV</text>
<text x="15.00" y="193.60" font-family="Liberation Sans, sans-serif" font-size="8.5" font-weight="bold" stroke="#000" stroke-width="0.3" fill="#000" text-anchor="start" >7.53 eV</text>
<line x1="48.60" y1="115.50" x2="113.40" y2="115.50" stroke="#000" stroke-width="1.6" stroke-dasharray="5.5 4.8"/>
<line x1="49.60" y1="131.90" x2="113.40" y2="131.90" stroke="#111" stroke-width="1.5" />
<line x1="49.60" y1="150.60" x2="113.40" y2="150.60" stroke="#111" stroke-width="1.5" />
<line x1="49.60" y1="190.20" x2="113.40" y2="190.20" stroke="#111" stroke-width="1.5" />
<path d="M116.60,113.20 L125.20,112.90 L125.50,114.70 L116.50,114.80 Z" fill="#000"/>
<path d="M117.86,113.90 L119.80,113.90 L119.70,119.30 Q118.78,120.10 117.86,119.30 Z" fill="#000"/>
<path d="M121.82,113.90 L123.75,113.90 L123.66,119.30 Q122.74,120.10 121.82,119.30 Z" fill="#000"/>
<polygon points="128.70,110.50 129.29,111.99 130.89,112.09 129.65,113.11 130.05,114.66 128.70,113.80 127.35,114.66 127.75,113.11 126.51,112.09 128.11,111.99" fill="#000" stroke="none" stroke-width="1" />
<path d="M119.10,189.70 L127.70,189.40 L128.00,191.20 L119.00,191.30 Z" fill="#000"/>
<path d="M120.36,190.40 L122.30,190.40 L122.20,195.80 Q121.28,196.60 120.36,195.80 Z" fill="#000"/>
<path d="M124.32,190.40 L126.25,190.40 L126.16,195.80 Q125.24,196.60 124.32,195.80 Z" fill="#000"/>
<line x1="60.90" y1="190.20" x2="60.90" y2="120.50" stroke="#1f55b8" stroke-width="3.2" />
<polygon points="58.00,121.00 60.90,116.80 63.80,121.00" fill="#1f55b8" stroke="none" stroke-width="1" />
<line x1="76.90" y1="151.40" x2="76.90" y2="186.50" stroke="#111" stroke-width="2.6" />
<polygon points="74.40,185.50 76.90,190.20 79.40,185.50" fill="#111" stroke="none" stroke-width="1" />
<line x1="88.90" y1="151.40" x2="88.90" y2="186.50" stroke="#1db04a" stroke-width="2.6" />
<polygon points="86.40,185.50 88.90,190.20 91.40,185.50" fill="#1db04a" stroke="none" stroke-width="1" />
<path d="M63.4,116.2 C66.5,117.2 65.5,121.5 67.5,124.5 C69.5,127.5 72.5,126.5 73.6,130.6" fill="none" stroke="#555" stroke-width="1.0"/>
<circle cx="73.4" cy="129.4" r="1.15" fill="#111"/>
<path d="M78.3,132.2 C81.5,134 79.5,139.5 82.5,142.8 C85.5,146 88.5,145 89.2,149.6" fill="none" stroke="#555" stroke-width="1.0"/>
<circle cx="89.0" cy="148.6" r="1.15" fill="#111"/>
<line x1="93.20" y1="165.30" x2="101.20" y2="165.30" stroke="#20b04a" stroke-width="2.3" />
<polygon points="99.40,162.60 103.40,165.30 99.40,168.00" fill="#20b04a" stroke="none" stroke-width="1" />
<path d="M101.8,159.6 C105.6,161.4 108.6,163.2 108.6,165.3 C108.6,167.6 104.6,169.5 100.5,171.1" fill="none" stroke="#20b04a" stroke-width="2.3" stroke-linecap="round"/>
<text x="105.30" y="181.60" font-family="Liberation Sans, sans-serif" font-size="10.2" font-weight="bold" stroke="#20b04a" stroke-width="0.3" fill="#20b04a" text-anchor="start" >hv</text>
<text x="141.60" y="105.80" font-family="Liberation Sans, sans-serif" font-size="8.5" font-weight="bold" stroke="#000" stroke-width="0.3" fill="#000" text-anchor="start" >13.07 eV</text>
<text x="141.60" y="146.20" font-family="Liberation Sans, sans-serif" font-size="8.5" font-weight="bold" stroke="#000" stroke-width="0.3" fill="#000" text-anchor="start" >10.09 eV</text>
<text x="141.60" y="182.90" font-family="Liberation Sans, sans-serif" font-size="8.5" font-weight="bold" stroke="#000" stroke-width="0.3" fill="#000" text-anchor="start" >8.27 eV</text>
<line x1="178.70" y1="102.50" x2="243.50" y2="102.50" stroke="#000" stroke-width="1.6" stroke-dasharray="5.4 4.7"/>
<line x1="179.00" y1="108.80" x2="243.00" y2="108.80" stroke="#111" stroke-width="1.5" />
<line x1="178.70" y1="116.80" x2="243.00" y2="116.80" stroke="#ff2020" stroke-width="1.5" />
<line x1="178.70" y1="125.30" x2="243.00" y2="125.30" stroke="#ff2020" stroke-width="1.5" />
<line x1="178.70" y1="134.80" x2="243.00" y2="134.80" stroke="#ff2020" stroke-width="1.5" />
<line x1="178.70" y1="142.30" x2="243.00" y2="142.30" stroke="#ff2020" stroke-width="1.5" />
<line x1="176.70" y1="181.70" x2="240.40" y2="181.70" stroke="#111" stroke-width="1.6" />
<path d="M251.20,101.50 L259.80,101.20 L260.10,103.00 L251.10,103.10 Z" fill="#000"/>
<path d="M252.46,102.20 L254.40,102.20 L254.30,107.60 Q253.38,108.40 252.46,107.60 Z" fill="#000"/>
<path d="M256.42,102.20 L258.35,102.20 L258.26,107.60 Q257.34,108.40 256.42,107.60 Z" fill="#000"/>
<polygon points="263.50,98.50 264.09,99.99 265.69,100.09 264.45,101.11 264.85,102.66 263.50,101.80 262.15,102.66 262.55,101.11 261.31,100.09 262.91,99.99" fill="#000" stroke="none" stroke-width="1" />
<path d="M251.40,180.10 L260.00,179.80 L260.30,181.60 L251.30,181.70 Z" fill="#000"/>
<path d="M252.66,180.80 L254.60,180.80 L254.50,186.20 Q253.58,187.00 252.66,186.20 Z" fill="#000"/>
<path d="M256.62,180.80 L258.55,180.80 L258.46,186.20 Q257.54,187.00 256.62,186.20 Z" fill="#000"/>
<line x1="183.20" y1="181.70" x2="183.20" y2="106.00" stroke="#1f55b8" stroke-width="2.6" />
<polygon points="181.00,107.00 183.20,102.50 185.40,107.00" fill="#1f55b8" stroke="none" stroke-width="1" />
<line x1="187.60" y1="181.70" x2="187.60" y2="121.00" stroke="#1db04a" stroke-width="2.6" />
<polygon points="185.40,122.00 187.60,117.40 189.80,122.00" fill="#1db04a" stroke="none" stroke-width="1" />
<line x1="192.10" y1="181.70" x2="192.10" y2="128.50" stroke="#f4a020" stroke-width="2.2" />
<polygon points="190.10,129.50 192.10,125.40 194.10,129.50" fill="#f4a020" stroke="none" stroke-width="1" />
<line x1="197.50" y1="181.70" x2="197.50" y2="135.00" stroke="#ff2020" stroke-width="1.8" />
<line x1="215.30" y1="143.00" x2="215.30" y2="178.00" stroke="#111" stroke-width="2.2" />
<polygon points="213.20,177.00 215.30,181.50 217.40,177.00" fill="#111" stroke="none" stroke-width="1" />
<line x1="222.40" y1="143.00" x2="222.40" y2="178.00" stroke="#e82020" stroke-width="1.8" />
<polygon points="220.40,177.00 222.40,181.50 224.40,177.00" fill="#e82020" stroke="none" stroke-width="1" />
<path d="M186.3,102.6 C187.64,105.65 191.66,105.85 193,108.9 C194.18,112.25 198.32,113.05 199.5,116.4 C200.69,119.95 204.91,121.05 206.1,124.6 C207.10,128.28 211.30,129.72 212.3,133.4 C213.54,136.90 217.76,137.90 219.0,141.4" fill="none" stroke="#7a7a7a" stroke-width="1.1"/>
<circle cx="193" cy="108.9" r="1.15" fill="#111"/>
<circle cx="199.5" cy="116.4" r="1.15" fill="#111"/>
<circle cx="206.1" cy="124.6" r="1.15" fill="#111"/>
<circle cx="212.3" cy="133.4" r="1.15" fill="#111"/>
<circle cx="219.0" cy="141.2" r="1.1" fill="#222"/>
<path d="M245.8,117.3 L248,117.3 Q249.2,117.3 249.2,118.8 L249.2,140.6 Q249.2,142 248,142 L245.8,142" fill="none" stroke="#ff3030" stroke-width="1.0" stroke-dasharray="2.2 1.3"/>
<line x1="249.20" y1="129.60" x2="251.60" y2="129.60" stroke="#ff3030" stroke-width="1.0" />
<text x="252.60" y="131.90" font-family="Liberation Sans, sans-serif" font-size="12.2" font-weight="bold" stroke="#ff1a1a" stroke-width="0.3" fill="#ff1a1a" text-anchor="start" >n</text>
<line x1="228.20" y1="160.20" x2="237.20" y2="160.20" stroke="#ff1a1a" stroke-width="2.3" />
<polygon points="235.60,157.50 239.60,160.20 235.60,162.90" fill="#ff1a1a" stroke="none" stroke-width="1" />
<path d="M236.2,154.8 C240.6,156.6 245.2,158.4 245.2,160.6 C245.2,162.8 239.6,164.6 233.6,166.1" fill="none" stroke="#ff1a1a" stroke-width="2.3" stroke-linecap="round"/>
<text x="247.40" y="164.80" font-family="Liberation Sans, sans-serif" font-size="10.0" font-weight="bold" stroke="#ff1a1a" stroke-width="0.3" fill="#ff1a1a" text-anchor="start" >hv</text>
<line x1="304.60" y1="108.40" x2="312.40" y2="103.90" stroke="#333" stroke-width="1.0" />
<line x1="296.80" y1="94.90" x2="296.80" y2="103.90" stroke="#333" stroke-width="1.0" />
<line x1="304.60" y1="108.40" x2="304.60" y2="117.40" stroke="#333" stroke-width="1.0" />
<line x1="320.20" y1="108.40" x2="320.20" y2="117.40" stroke="#333" stroke-width="1.0" />
<line x1="289.00" y1="108.40" x2="296.80" y2="103.90" stroke="#333" stroke-width="1.0" />
<line x1="304.60" y1="90.40" x2="312.40" y2="94.90" stroke="#333" stroke-width="1.0" />
<line x1="289.00" y1="117.40" x2="296.80" y2="121.90" stroke="#333" stroke-width="1.0" />
<line x1="304.60" y1="135.40" x2="312.40" y2="130.90" stroke="#333" stroke-width="1.0" />
<line x1="296.80" y1="103.90" x2="304.60" y2="108.40" stroke="#333" stroke-width="1.0" />
<line x1="312.40" y1="121.90" x2="320.20" y2="117.40" stroke="#333" stroke-width="1.0" />
<line x1="289.00" y1="108.40" x2="289.00" y2="117.40" stroke="#333" stroke-width="1.0" />
<line x1="296.80" y1="121.90" x2="304.60" y2="117.40" stroke="#333" stroke-width="1.0" />
<line x1="304.60" y1="117.40" x2="312.40" y2="121.90" stroke="#333" stroke-width="1.0" />
<line x1="296.80" y1="130.90" x2="304.60" y2="135.40" stroke="#333" stroke-width="1.0" />
<line x1="312.40" y1="103.90" x2="320.20" y2="108.40" stroke="#333" stroke-width="1.0" />
<line x1="296.80" y1="121.90" x2="296.80" y2="130.90" stroke="#333" stroke-width="1.0" />
<line x1="312.40" y1="121.90" x2="312.40" y2="130.90" stroke="#333" stroke-width="1.0" />
<line x1="312.40" y1="94.90" x2="312.40" y2="103.90" stroke="#333" stroke-width="1.0" />
<line x1="296.80" y1="94.90" x2="304.60" y2="90.40" stroke="#333" stroke-width="1.0" />
<line x1="298.52" y1="101.86" x2="298.52" y2="96.94" stroke="#333" stroke-width="0.9" />
<line x1="305.51" y1="92.91" x2="309.77" y2="95.36" stroke="#333" stroke-width="0.9" />
<line x1="309.77" y1="103.44" x2="305.51" y2="105.89" stroke="#333" stroke-width="0.9" />
<line x1="295.89" y1="119.39" x2="291.64" y2="116.94" stroke="#333" stroke-width="0.9" />
<line x1="318.47" y1="110.44" x2="318.47" y2="115.36" stroke="#333" stroke-width="0.9" />
<line x1="303.69" y1="132.89" x2="299.43" y2="130.44" stroke="#333" stroke-width="0.9" />
<line x1="310.68" y1="123.94" x2="310.68" y2="128.86" stroke="#333" stroke-width="0.9" />
<line x1="296.81" y1="94.90" x2="290.01" y2="90.70" stroke="#333" stroke-width="0.9" />
<line x1="312.39" y1="94.90" x2="320.89" y2="91.60" stroke="#333" stroke-width="0.9" />
<line x1="312.39" y1="130.90" x2="318.59" y2="133.50" stroke="#333" stroke-width="0.9" />
<text x="281.00" y="92.00" font-family="Liberation Serif, serif" font-size="5.2" font-weight="bold" stroke="#222" stroke-width="0.25" fill="#222" text-anchor="start" >O</text>
<text x="284.90" y="93.60" font-family="Liberation Serif, serif" font-size="3.6" font-weight="bold" stroke="#222" stroke-width="0.25" fill="#222" text-anchor="start" >2</text>
<text x="286.40" y="92.00" font-family="Liberation Serif, serif" font-size="5.2" font-weight="bold" stroke="#222" stroke-width="0.25" fill="#222" text-anchor="start" >N</text>
<text x="321.60" y="93.30" font-family="Liberation Serif, serif" font-size="5.2" font-weight="bold" stroke="#222" stroke-width="0.25" fill="#222" text-anchor="start" >NO</text>
<text x="329.10" y="95.00" font-family="Liberation Serif, serif" font-size="3.6" font-weight="bold" stroke="#222" stroke-width="0.25" fill="#222" text-anchor="start" >2</text>
<text x="319.30" y="136.40" font-family="Liberation Serif, serif" font-size="5.2" font-weight="bold" stroke="#222" stroke-width="0.25" fill="#222" text-anchor="start" >NO</text>
<text x="326.80" y="138.10" font-family="Liberation Serif, serif" font-size="3.6" font-weight="bold" stroke="#222" stroke-width="0.25" fill="#222" text-anchor="start" >2</text>
<text x="298.60" y="146.80" font-family="Liberation Serif, serif" font-size="7.2" font-weight="bold" stroke="#222" stroke-width="0.25" fill="#222" text-anchor="start" >TNP</text>
<text x="332.30" y="109.00" font-family="Liberation Serif, serif" font-size="8.9" font-weight="bold" stroke="#222" stroke-width="0.25" fill="#222" text-anchor="start" >disperse</text>
<line x1="330.20" y1="112.20" x2="364.00" y2="112.20" stroke="#2a2a9a" stroke-width="1.6" />
<polygon points="363.00,110.20 367.40,112.20 363.00,114.20" fill="#2a2a9a" stroke="none" stroke-width="1" />
<path d="M381,48.9 Q376.2,49.6 376.2,53.5 L376.2,107.5 Q376.2,111.6 370.2,112.3 Q376.2,113 376.2,117 L376.2,179 Q376.3,182.3 381.5,182.9" fill="none" stroke="#111" stroke-width="1.4"/>
<linearGradient id="pb25" x1="0" x2="0" y1="0" y2="1"><stop offset="0" stop-color="#dcdad4"/><stop offset="1" stop-color="#c9c7bf"/></linearGradient>
<rect x="381" y="25.1" width="29.8" height="29.3" fill="url(#pb25)"/>
<rect x="386.40" y="27.50" width="19.00" height="26.30" fill="#e2e1dc" opacity="0.6" stroke="#b4b3ad" stroke-width="0.5" rx="1"/>
<ellipse cx="395.90" cy="27.90" rx="9.50" ry="1.0" fill="none" stroke="#f4f4f2" stroke-width="0.8"/>
<linearGradient id="gl25" x1="0" x2="1"><stop offset="0" stop-color="#1a1212"/><stop offset="0.5" stop-color="#2c2020"/><stop offset="1" stop-color="#1a1212"/></linearGradient>
<path d="M388.00,37.00 L403.60,37.00 L403.60,51.80 Q403.60,53.40 401.60,53.40 L390.00,53.40 Q388.00,53.40 388.00,51.80 Z" fill="url(#gl25)"/>
<ellipse cx="395.80" cy="37.50" rx="7.80" ry="0.9" fill="#707a38" opacity="0.8"/>
<linearGradient id="pb68" x1="0" x2="0" y1="0" y2="1"><stop offset="0" stop-color="#dcdad4"/><stop offset="1" stop-color="#c9c7bf"/></linearGradient>
<rect x="381.2" y="68.7" width="29.7" height="28.5" fill="url(#pb68)"/>
<rect x="386.60" y="71.10" width="18.90" height="25.50" fill="#e2e1dc" opacity="0.6" stroke="#b4b3ad" stroke-width="0.5" rx="1"/>
<ellipse cx="396.05" cy="71.50" rx="9.45" ry="1.0" fill="none" stroke="#f4f4f2" stroke-width="0.8"/>
<linearGradient id="gl68" x1="0" x2="1"><stop offset="0" stop-color="#2c4818"/><stop offset="0.5" stop-color="#426428"/><stop offset="1" stop-color="#2c4818"/></linearGradient>
<path d="M388.20,81.20 L403.70,81.20 L403.70,94.60 Q403.70,96.20 401.70,96.20 L390.20,96.20 Q388.20,96.20 388.20,94.60 Z" fill="url(#gl68)"/>
<ellipse cx="395.95" cy="81.70" rx="7.75" ry="0.9" fill="#5e7e3c" opacity="0.8"/>
<linearGradient id="pb121" x1="0" x2="0" y1="0" y2="1"><stop offset="0" stop-color="#dcdad4"/><stop offset="1" stop-color="#c9c7bf"/></linearGradient>
<rect x="381.6" y="121.9" width="29.4" height="29.4" fill="url(#pb121)"/>
<rect x="387.00" y="124.30" width="18.60" height="26.40" fill="#e2e1dc" opacity="0.6" stroke="#b4b3ad" stroke-width="0.5" rx="1"/>
<ellipse cx="396.30" cy="124.70" rx="9.30" ry="1.0" fill="none" stroke="#f4f4f2" stroke-width="0.8"/>
<linearGradient id="gl121" x1="0" x2="1"><stop offset="0" stop-color="#d89c38"/><stop offset="0.5" stop-color="#eab452"/><stop offset="1" stop-color="#d89c38"/></linearGradient>
<path d="M388.60,132.40 L403.80,132.40 L403.80,148.70 Q403.80,150.30 401.80,150.30 L390.60,150.30 Q388.60,150.30 388.60,148.70 Z" fill="url(#gl121)"/>
<ellipse cx="396.20" cy="132.90" rx="7.60" ry="0.9" fill="#f0c878" opacity="0.8"/>
<linearGradient id="pb171" x1="0" x2="0" y1="0" y2="1"><stop offset="0" stop-color="#dcdad4"/><stop offset="1" stop-color="#c9c7bf"/></linearGradient>
<rect x="381.6" y="171.7" width="29.4" height="28.6" fill="url(#pb171)"/>
<rect x="387.00" y="174.10" width="18.60" height="25.60" fill="#e2e1dc" opacity="0.6" stroke="#b4b3ad" stroke-width="0.5" rx="1"/>
<ellipse cx="396.30" cy="174.50" rx="9.30" ry="1.0" fill="none" stroke="#f4f4f2" stroke-width="0.8"/>
<linearGradient id="gl171" x1="0" x2="1"><stop offset="0" stop-color="#d89c38"/><stop offset="0.5" stop-color="#eab452"/><stop offset="1" stop-color="#d89c38"/></linearGradient>
<path d="M388.60,183.40 L403.80,183.40 L403.80,197.70 Q403.80,199.30 401.80,199.30 L390.60,199.30 Q388.60,199.30 388.60,197.70 Z" fill="url(#gl171)"/>
<ellipse cx="396.20" cy="183.90" rx="7.60" ry="0.9" fill="#f0c878" opacity="0.8"/>
<text x="396.80" y="60.50" font-family="Liberation Serif, serif" font-size="6.9" font-weight="bold" stroke="#222" stroke-width="0.25" fill="#222" text-anchor="middle" textLength="14.2" lengthAdjust="spacingAndGlyphs">DMF</text>
<text x="396.60" y="103.50" font-family="Liberation Serif, serif" font-size="6.9" font-weight="bold" stroke="#222" stroke-width="0.25" fill="#222" text-anchor="middle" textLength="29.6" lengthAdjust="spacingAndGlyphs">DMF/H2O</text>
<text x="396.60" y="111.10" font-family="Liberation Serif, serif" font-size="6.9" font-weight="bold" stroke="#222" stroke-width="0.25" fill="#222" text-anchor="middle" textLength="34" lengthAdjust="spacingAndGlyphs">(2:1 vol/vol)</text>
<text x="396.90" y="156.60" font-family="Liberation Serif, serif" font-size="7.1"  fill="#1a1a1a" text-anchor="middle" stroke="#1a1a1a" stroke-width="0.3">EtOH</text>
<text x="396.70" y="207.20" font-family="Liberation Serif, serif" font-size="7.2" font-weight="bold" stroke="#222" stroke-width="0.25" fill="#222" text-anchor="middle" textLength="49" lengthAdjust="spacingAndGlyphs">EtOH/CH3COOH</text>
<text x="396.70" y="214.80" font-family="Liberation Serif, serif" font-size="7.0" font-weight="bold" stroke="#222" stroke-width="0.25" fill="#222" text-anchor="middle" textLength="41.4" lengthAdjust="spacingAndGlyphs">(450:1 vol/vol)</text>
<text x="413.80" y="42.40" font-family="Liberation Serif, serif" font-size="7.4" font-weight="bold" stroke="#222" stroke-width="0.25" fill="#222" text-anchor="start" textLength="60.5" lengthAdjust="spacingAndGlyphs">Solvent-engineered</text>
<line x1="413.80" y1="45.10" x2="473.00" y2="45.10" stroke="#2a2a9a" stroke-width="1.6" />
<polygon points="472.00,43.20 476.40,45.10 472.00,47.00" fill="#2a2a9a" stroke="none" stroke-width="1" />
<text x="426.2" y="52.9" font-family="Liberation Serif, serif" font-size="7.0" font-weight="bold" stroke="#1a1a1a" stroke-width="0.3" fill="#1a1a1a">230 <tspan font-size="4.7" dy="-2.5">o</tspan><tspan dy="2.5">C 12h</tspan></text>
<text x="413.80" y="85.80" font-family="Liberation Serif, serif" font-size="7.4" font-weight="bold" stroke="#222" stroke-width="0.25" fill="#222" text-anchor="start" textLength="60.5" lengthAdjust="spacingAndGlyphs">Solvent-engineered</text>
<line x1="413.80" y1="88.50" x2="473.00" y2="88.50" stroke="#2a2a9a" stroke-width="1.6" />
<polygon points="472.00,86.60 476.40,88.50 472.00,90.40" fill="#2a2a9a" stroke="none" stroke-width="1" />
<text x="426.2" y="95.7" font-family="Liberation Serif, serif" font-size="7.0" font-weight="bold" stroke="#1a1a1a" stroke-width="0.3" fill="#1a1a1a">230 <tspan font-size="4.7" dy="-2.5">o</tspan><tspan dy="2.5">C 12h</tspan></text>
<text x="413.80" y="137.00" font-family="Liberation Serif, serif" font-size="7.4" font-weight="bold" stroke="#222" stroke-width="0.25" fill="#222" text-anchor="start" textLength="60.5" lengthAdjust="spacingAndGlyphs">Solvent-engineered</text>
<line x1="413.80" y1="140.00" x2="473.00" y2="140.00" stroke="#2a2a9a" stroke-width="1.6" />
<polygon points="472.00,138.10 476.40,140.00 472.00,141.90" fill="#2a2a9a" stroke="none" stroke-width="1" />
<text x="426.2" y="147.6" font-family="Liberation Serif, serif" font-size="7.0" font-weight="bold" stroke="#1a1a1a" stroke-width="0.3" fill="#1a1a1a">230 <tspan font-size="4.7" dy="-2.5">o</tspan><tspan dy="2.5">C 12h</tspan></text>
<text x="413.80" y="183.30" font-family="Liberation Serif, serif" font-size="7.4" font-weight="bold" stroke="#222" stroke-width="0.25" fill="#222" text-anchor="start" textLength="60.5" lengthAdjust="spacingAndGlyphs">Solvent-engineered</text>
<line x1="413.80" y1="185.80" x2="473.00" y2="185.80" stroke="#2a2a9a" stroke-width="1.6" />
<polygon points="472.00,183.90 476.40,185.80 472.00,187.70" fill="#2a2a9a" stroke="none" stroke-width="1" />
<text x="426.2" y="193.5" font-family="Liberation Serif, serif" font-size="7.0" font-weight="bold" stroke="#1a1a1a" stroke-width="0.3" fill="#1a1a1a">230 <tspan font-size="4.7" dy="-2.5">o</tspan><tspan dy="2.5">C 12h</tspan></text>
<g filter="url(#blur08)">
<circle cx="485.5" cy="32.5" r="6.0" fill="#f4a4aa" opacity="0.75"/>
<circle cx="491.3" cy="35.1" r="6.0" fill="#f4a4aa" opacity="0.75"/>
<circle cx="504.4" cy="30" r="6.0" fill="#f4a4aa" opacity="0.75"/>
<circle cx="514.6" cy="32.2" r="6.0" fill="#f4a4aa" opacity="0.75"/>
<circle cx="528.1" cy="29.3" r="6.0" fill="#f4a4aa" opacity="0.75"/>
<circle cx="533.7" cy="37.7" r="6.0" fill="#f4a4aa" opacity="0.75"/>
<circle cx="498.6" cy="40.8" r="6.0" fill="#f4a4aa" opacity="0.75"/>
<circle cx="509.2" cy="40.8" r="6.0" fill="#f4a4aa" opacity="0.75"/>
<circle cx="522.3" cy="40" r="6.0" fill="#f4a4aa" opacity="0.75"/>
<circle cx="488.4" cy="45.6" r="6.0" fill="#f4a4aa" opacity="0.75"/>
<circle cx="501.5" cy="50.7" r="6.0" fill="#f4a4aa" opacity="0.75"/>
<circle cx="507.3" cy="48.5" r="6.0" fill="#f4a4aa" opacity="0.75"/>
<circle cx="517.5" cy="48.5" r="6.0" fill="#f4a4aa" opacity="0.75"/>
<circle cx="530.7" cy="48.5" r="6.0" fill="#f4a4aa" opacity="0.75"/>
<circle cx="485.5" cy="32.5" r="4.0" fill="#ec7880" opacity="0.55"/>
<circle cx="491.3" cy="35.1" r="4.0" fill="#ec7880" opacity="0.55"/>
<circle cx="504.4" cy="30" r="4.0" fill="#ec7880" opacity="0.55"/>
<circle cx="514.6" cy="32.2" r="4.0" fill="#ec7880" opacity="0.55"/>
<circle cx="528.1" cy="29.3" r="4.0" fill="#ec7880" opacity="0.55"/>
<circle cx="533.7" cy="37.7" r="4.0" fill="#ec7880" opacity="0.55"/>
<circle cx="498.6" cy="40.8" r="4.0" fill="#ec7880" opacity="0.55"/>
<circle cx="509.2" cy="40.8" r="4.0" fill="#ec7880" opacity="0.55"/>
<circle cx="522.3" cy="40" r="4.0" fill="#ec7880" opacity="0.55"/>
<circle cx="488.4" cy="45.6" r="4.0" fill="#ec7880" opacity="0.55"/>
<circle cx="501.5" cy="50.7" r="4.0" fill="#ec7880" opacity="0.55"/>
<circle cx="507.3" cy="48.5" r="4.0" fill="#ec7880" opacity="0.55"/>
<circle cx="517.5" cy="48.5" r="4.0" fill="#ec7880" opacity="0.55"/>
<circle cx="530.7" cy="48.5" r="4.0" fill="#ec7880" opacity="0.55"/>
</g>
<circle cx="485.5" cy="32.5" r="2.8" fill="#b81420" filter="url(#blur05)"/>
<circle cx="485.5" cy="32.5" r="1.0" fill="#f2dc90"/>
<circle cx="491.3" cy="35.1" r="2.8" fill="#b81420" filter="url(#blur05)"/>
<circle cx="491.3" cy="35.1" r="1.0" fill="#f2dc90"/>
<circle cx="504.4" cy="30" r="2.8" fill="#b81420" filter="url(#blur05)"/>
<circle cx="504.4" cy="30" r="1.0" fill="#f2dc90"/>
<circle cx="514.6" cy="32.2" r="2.8" fill="#b81420" filter="url(#blur05)"/>
<circle cx="514.6" cy="32.2" r="1.0" fill="#f2dc90"/>
<circle cx="528.1" cy="29.3" r="2.8" fill="#b81420" filter="url(#blur05)"/>
<circle cx="528.1" cy="29.3" r="1.0" fill="#f2dc90"/>
<circle cx="533.7" cy="37.7" r="2.8" fill="#b81420" filter="url(#blur05)"/>
<circle cx="533.7" cy="37.7" r="1.0" fill="#f2dc90"/>
<circle cx="498.6" cy="40.8" r="2.8" fill="#b81420" filter="url(#blur05)"/>
<circle cx="498.6" cy="40.8" r="1.0" fill="#f2dc90"/>
<circle cx="509.2" cy="40.8" r="2.8" fill="#b81420" filter="url(#blur05)"/>
<circle cx="509.2" cy="40.8" r="1.0" fill="#f2dc90"/>
<circle cx="522.3" cy="40" r="2.8" fill="#b81420" filter="url(#blur05)"/>
<circle cx="522.3" cy="40" r="1.0" fill="#f2dc90"/>
<circle cx="488.4" cy="45.6" r="2.8" fill="#b81420" filter="url(#blur05)"/>
<circle cx="488.4" cy="45.6" r="1.0" fill="#f2dc90"/>
<circle cx="501.5" cy="50.7" r="2.8" fill="#b81420" filter="url(#blur05)"/>
<circle cx="501.5" cy="50.7" r="1.0" fill="#f2dc90"/>
<circle cx="507.3" cy="48.5" r="2.8" fill="#b81420" filter="url(#blur05)"/>
<circle cx="507.3" cy="48.5" r="1.0" fill="#f2dc90"/>
<circle cx="517.5" cy="48.5" r="2.8" fill="#b81420" filter="url(#blur05)"/>
<circle cx="517.5" cy="48.5" r="1.0" fill="#f2dc90"/>
<circle cx="530.7" cy="48.5" r="2.8" fill="#b81420" filter="url(#blur05)"/>
<circle cx="530.7" cy="48.5" r="1.0" fill="#f2dc90"/>
<text x="519.40" y="63.80" font-family="Liberation Serif, serif" font-size="9.2" font-weight="bold" stroke="#222" stroke-width="0.25" fill="#222" text-anchor="middle" >r-CQDs</text>
<g filter="url(#blur08)">
<circle cx="490.1" cy="76.7" r="6.0" fill="#a8d2f2" opacity="0.75"/>
<circle cx="503.3" cy="74" r="6.0" fill="#a8d2f2" opacity="0.75"/>
<circle cx="511.2" cy="79.5" r="6.0" fill="#a8d2f2" opacity="0.75"/>
<circle cx="524.5" cy="79.5" r="6.0" fill="#a8d2f2" opacity="0.75"/>
<circle cx="535" cy="79.5" r="6.0" fill="#a8d2f2" opacity="0.75"/>
<circle cx="498" cy="83.5" r="6.0" fill="#a8d2f2" opacity="0.75"/>
<circle cx="487.4" cy="88.3" r="6.0" fill="#a8d2f2" opacity="0.75"/>
<circle cx="508.3" cy="88.6" r="6.0" fill="#a8d2f2" opacity="0.75"/>
<circle cx="520.7" cy="91" r="6.0" fill="#a8d2f2" opacity="0.75"/>
<circle cx="532.5" cy="88.6" r="6.0" fill="#a8d2f2" opacity="0.75"/>
<circle cx="498" cy="93.3" r="6.0" fill="#a8d2f2" opacity="0.75"/>
<circle cx="511.5" cy="99.7" r="6.0" fill="#a8d2f2" opacity="0.75"/>
<circle cx="532.5" cy="98.6" r="6.0" fill="#a8d2f2" opacity="0.75"/>
<circle cx="490.1" cy="76.7" r="4.0" fill="#7cb6ea" opacity="0.55"/>
<circle cx="503.3" cy="74" r="4.0" fill="#7cb6ea" opacity="0.55"/>
<circle cx="511.2" cy="79.5" r="4.0" fill="#7cb6ea" opacity="0.55"/>
<circle cx="524.5" cy="79.5" r="4.0" fill="#7cb6ea" opacity="0.55"/>
<circle cx="535" cy="79.5" r="4.0" fill="#7cb6ea" opacity="0.55"/>
<circle cx="498" cy="83.5" r="4.0" fill="#7cb6ea" opacity="0.55"/>
<circle cx="487.4" cy="88.3" r="4.0" fill="#7cb6ea" opacity="0.55"/>
<circle cx="508.3" cy="88.6" r="4.0" fill="#7cb6ea" opacity="0.55"/>
<circle cx="520.7" cy="91" r="4.0" fill="#7cb6ea" opacity="0.55"/>
<circle cx="532.5" cy="88.6" r="4.0" fill="#7cb6ea" opacity="0.55"/>
<circle cx="498" cy="93.3" r="4.0" fill="#7cb6ea" opacity="0.55"/>
<circle cx="511.5" cy="99.7" r="4.0" fill="#7cb6ea" opacity="0.55"/>
<circle cx="532.5" cy="98.6" r="4.0" fill="#7cb6ea" opacity="0.55"/>
</g>
<circle cx="490.1" cy="76.7" r="2.8" fill="#1c5eba" filter="url(#blur05)"/>
<circle cx="490.1" cy="76.7" r="1.0" fill="#f0f8ff"/>
<circle cx="503.3" cy="74" r="2.8" fill="#1c5eba" filter="url(#blur05)"/>
<circle cx="503.3" cy="74" r="1.0" fill="#f0f8ff"/>
<circle cx="511.2" cy="79.5" r="2.8" fill="#1c5eba" filter="url(#blur05)"/>
<circle cx="511.2" cy="79.5" r="1.0" fill="#f0f8ff"/>
<circle cx="524.5" cy="79.5" r="2.8" fill="#1c5eba" filter="url(#blur05)"/>
<circle cx="524.5" cy="79.5" r="1.0" fill="#f0f8ff"/>
<circle cx="535" cy="79.5" r="2.8" fill="#1c5eba" filter="url(#blur05)"/>
<circle cx="535" cy="79.5" r="1.0" fill="#f0f8ff"/>
<circle cx="498" cy="83.5" r="2.8" fill="#1c5eba" filter="url(#blur05)"/>
<circle cx="498" cy="83.5" r="1.0" fill="#f0f8ff"/>
<circle cx="487.4" cy="88.3" r="2.8" fill="#1c5eba" filter="url(#blur05)"/>
<circle cx="487.4" cy="88.3" r="1.0" fill="#f0f8ff"/>
<circle cx="508.3" cy="88.6" r="2.8" fill="#1c5eba" filter="url(#blur05)"/>
<circle cx="508.3" cy="88.6" r="1.0" fill="#f0f8ff"/>
<circle cx="520.7" cy="91" r="2.8" fill="#1c5eba" filter="url(#blur05)"/>
<circle cx="520.7" cy="91" r="1.0" fill="#f0f8ff"/>
<circle cx="532.5" cy="88.6" r="2.8" fill="#1c5eba" filter="url(#blur05)"/>
<circle cx="532.5" cy="88.6" r="1.0" fill="#f0f8ff"/>
<circle cx="498" cy="93.3" r="2.8" fill="#1c5eba" filter="url(#blur05)"/>
<circle cx="498" cy="93.3" r="1.0" fill="#f0f8ff"/>
<circle cx="511.5" cy="99.7" r="2.8" fill="#1c5eba" filter="url(#blur05)"/>
<circle cx="511.5" cy="99.7" r="1.0" fill="#f0f8ff"/>
<circle cx="532.5" cy="98.6" r="2.8" fill="#1c5eba" filter="url(#blur05)"/>
<circle cx="532.5" cy="98.6" r="1.0" fill="#f0f8ff"/>
<text x="520.40" y="113.20" font-family="Liberation Serif, serif" font-size="9.2" font-weight="bold" stroke="#222" stroke-width="0.25" fill="#222" text-anchor="middle" >b-CQDs</text>
<g filter="url(#blur08)">
<circle cx="504" cy="122.7" r="6.0" fill="#f8cc66" opacity="0.75"/>
<circle cx="507.5" cy="128.3" r="6.0" fill="#f8cc66" opacity="0.75"/>
<circle cx="519.9" cy="125.9" r="6.0" fill="#f8cc66" opacity="0.75"/>
<circle cx="528.7" cy="125.4" r="6.0" fill="#f8cc66" opacity="0.75"/>
<circle cx="492.1" cy="131.1" r="6.0" fill="#f8cc66" opacity="0.75"/>
<circle cx="499.1" cy="131.1" r="6.0" fill="#f8cc66" opacity="0.75"/>
<circle cx="513.9" cy="130.6" r="6.0" fill="#f8cc66" opacity="0.75"/>
<circle cx="534" cy="133.5" r="6.0" fill="#f8cc66" opacity="0.75"/>
<circle cx="486.1" cy="139" r="6.0" fill="#f8cc66" opacity="0.75"/>
<circle cx="504.4" cy="139" r="6.0" fill="#f8cc66" opacity="0.75"/>
<circle cx="517.5" cy="137.3" r="6.0" fill="#f8cc66" opacity="0.75"/>
<circle cx="525.2" cy="135.4" r="6.0" fill="#f8cc66" opacity="0.75"/>
<circle cx="489.6" cy="145.2" r="6.0" fill="#f8cc66" opacity="0.75"/>
<circle cx="498.8" cy="142.5" r="6.0" fill="#f8cc66" opacity="0.75"/>
<circle cx="512.6" cy="142.5" r="6.0" fill="#f8cc66" opacity="0.75"/>
<circle cx="509.1" cy="145.7" r="6.0" fill="#f8cc66" opacity="0.75"/>
<circle cx="528.5" cy="142.5" r="6.0" fill="#f8cc66" opacity="0.75"/>
<circle cx="520.7" cy="148.1" r="6.0" fill="#f8cc66" opacity="0.75"/>
<circle cx="504" cy="122.7" r="4.0" fill="#f4b040" opacity="0.55"/>
<circle cx="507.5" cy="128.3" r="4.0" fill="#f4b040" opacity="0.55"/>
<circle cx="519.9" cy="125.9" r="4.0" fill="#f4b040" opacity="0.55"/>
<circle cx="528.7" cy="125.4" r="4.0" fill="#f4b040" opacity="0.55"/>
<circle cx="492.1" cy="131.1" r="4.0" fill="#f4b040" opacity="0.55"/>
<circle cx="499.1" cy="131.1" r="4.0" fill="#f4b040" opacity="0.55"/>
<circle cx="513.9" cy="130.6" r="4.0" fill="#f4b040" opacity="0.55"/>
<circle cx="534" cy="133.5" r="4.0" fill="#f4b040" opacity="0.55"/>
<circle cx="486.1" cy="139" r="4.0" fill="#f4b040" opacity="0.55"/>
<circle cx="504.4" cy="139" r="4.0" fill="#f4b040" opacity="0.55"/>
<circle cx="517.5" cy="137.3" r="4.0" fill="#f4b040" opacity="0.55"/>
<circle cx="525.2" cy="135.4" r="4.0" fill="#f4b040" opacity="0.55"/>
<circle cx="489.6" cy="145.2" r="4.0" fill="#f4b040" opacity="0.55"/>
<circle cx="498.8" cy="142.5" r="4.0" fill="#f4b040" opacity="0.55"/>
<circle cx="512.6" cy="142.5" r="4.0" fill="#f4b040" opacity="0.55"/>
<circle cx="509.1" cy="145.7" r="4.0" fill="#f4b040" opacity="0.55"/>
<circle cx="528.5" cy="142.5" r="4.0" fill="#f4b040" opacity="0.55"/>
<circle cx="520.7" cy="148.1" r="4.0" fill="#f4b040" opacity="0.55"/>
</g>
<circle cx="504" cy="122.7" r="2.8" fill="#e88810" filter="url(#blur05)"/>
<circle cx="504" cy="122.7" r="1.0" fill="#fff4d0"/>
<circle cx="507.5" cy="128.3" r="2.8" fill="#e88810" filter="url(#blur05)"/>
<circle cx="507.5" cy="128.3" r="1.0" fill="#fff4d0"/>
<circle cx="519.9" cy="125.9" r="2.8" fill="#e88810" filter="url(#blur05)"/>
<circle cx="519.9" cy="125.9" r="1.0" fill="#fff4d0"/>
<circle cx="528.7" cy="125.4" r="2.8" fill="#e88810" filter="url(#blur05)"/>
<circle cx="528.7" cy="125.4" r="1.0" fill="#fff4d0"/>
<circle cx="492.1" cy="131.1" r="2.8" fill="#e88810" filter="url(#blur05)"/>
<circle cx="492.1" cy="131.1" r="1.0" fill="#fff4d0"/>
<circle cx="499.1" cy="131.1" r="2.8" fill="#e88810" filter="url(#blur05)"/>
<circle cx="499.1" cy="131.1" r="1.0" fill="#fff4d0"/>
<circle cx="513.9" cy="130.6" r="2.8" fill="#e88810" filter="url(#blur05)"/>
<circle cx="513.9" cy="130.6" r="1.0" fill="#fff4d0"/>
<circle cx="534" cy="133.5" r="2.8" fill="#e88810" filter="url(#blur05)"/>
<circle cx="534" cy="133.5" r="1.0" fill="#fff4d0"/>
<circle cx="486.1" cy="139" r="2.8" fill="#e88810" filter="url(#blur05)"/>
<circle cx="486.1" cy="139" r="1.0" fill="#fff4d0"/>
<circle cx="504.4" cy="139" r="2.8" fill="#e88810" filter="url(#blur05)"/>
<circle cx="504.4" cy="139" r="1.0" fill="#fff4d0"/>
<circle cx="517.5" cy="137.3" r="2.8" fill="#e88810" filter="url(#blur05)"/>
<circle cx="517.5" cy="137.3" r="1.0" fill="#fff4d0"/>
<circle cx="525.2" cy="135.4" r="2.8" fill="#e88810" filter="url(#blur05)"/>
<circle cx="525.2" cy="135.4" r="1.0" fill="#fff4d0"/>
<circle cx="489.6" cy="145.2" r="2.8" fill="#e88810" filter="url(#blur05)"/>
<circle cx="489.6" cy="145.2" r="1.0" fill="#fff4d0"/>
<circle cx="498.8" cy="142.5" r="2.8" fill="#e88810" filter="url(#blur05)"/>
<circle cx="498.8" cy="142.5" r="1.0" fill="#fff4d0"/>
<circle cx="512.6" cy="142.5" r="2.8" fill="#e88810" filter="url(#blur05)"/>
<circle cx="512.6" cy="142.5" r="1.0" fill="#fff4d0"/>
<circle cx="509.1" cy="145.7" r="2.8" fill="#e88810" filter="url(#blur05)"/>
<circle cx="509.1" cy="145.7" r="1.0" fill="#fff4d0"/>
<circle cx="528.5" cy="142.5" r="2.8" fill="#e88810" filter="url(#blur05)"/>
<circle cx="528.5" cy="142.5" r="1.0" fill="#fff4d0"/>
<circle cx="520.7" cy="148.1" r="2.8" fill="#e88810" filter="url(#blur05)"/>
<circle cx="520.7" cy="148.1" r="1.0" fill="#fff4d0"/>
<text x="520.60" y="161.10" font-family="Liberation Serif, serif" font-size="9.2" font-weight="bold" stroke="#222" stroke-width="0.25" fill="#222" text-anchor="middle" >y-CQDs</text>
<g filter="url(#blur08)">
<circle cx="513.4" cy="170.8" r="6.0" fill="#a8dca8" opacity="0.75"/>
<circle cx="498.8" cy="178.3" r="6.0" fill="#a8dca8" opacity="0.75"/>
<circle cx="506.7" cy="180.3" r="6.0" fill="#a8dca8" opacity="0.75"/>
<circle cx="516.3" cy="177.5" r="6.0" fill="#a8dca8" opacity="0.75"/>
<circle cx="524.2" cy="175.6" r="6.0" fill="#a8dca8" opacity="0.75"/>
<circle cx="488" cy="183.5" r="6.0" fill="#a8dca8" opacity="0.75"/>
<circle cx="496" cy="188.3" r="6.0" fill="#a8dca8" opacity="0.75"/>
<circle cx="519.1" cy="186.2" r="6.0" fill="#a8dca8" opacity="0.75"/>
<circle cx="525.5" cy="183" r="6.0" fill="#a8dca8" opacity="0.75"/>
<circle cx="536.1" cy="186.2" r="6.0" fill="#a8dca8" opacity="0.75"/>
<circle cx="488" cy="193.7" r="6.0" fill="#a8dca8" opacity="0.75"/>
<circle cx="499.6" cy="195.7" r="6.0" fill="#a8dca8" opacity="0.75"/>
<circle cx="507.5" cy="190.6" r="6.0" fill="#a8dca8" opacity="0.75"/>
<circle cx="516.3" cy="195.7" r="6.0" fill="#a8dca8" opacity="0.75"/>
<circle cx="526.9" cy="192.9" r="6.0" fill="#a8dca8" opacity="0.75"/>
<circle cx="513.4" cy="170.8" r="4.0" fill="#80cc80" opacity="0.55"/>
<circle cx="498.8" cy="178.3" r="4.0" fill="#80cc80" opacity="0.55"/>
<circle cx="506.7" cy="180.3" r="4.0" fill="#80cc80" opacity="0.55"/>
<circle cx="516.3" cy="177.5" r="4.0" fill="#80cc80" opacity="0.55"/>
<circle cx="524.2" cy="175.6" r="4.0" fill="#80cc80" opacity="0.55"/>
<circle cx="488" cy="183.5" r="4.0" fill="#80cc80" opacity="0.55"/>
<circle cx="496" cy="188.3" r="4.0" fill="#80cc80" opacity="0.55"/>
<circle cx="519.1" cy="186.2" r="4.0" fill="#80cc80" opacity="0.55"/>
<circle cx="525.5" cy="183" r="4.0" fill="#80cc80" opacity="0.55"/>
<circle cx="536.1" cy="186.2" r="4.0" fill="#80cc80" opacity="0.55"/>
<circle cx="488" cy="193.7" r="4.0" fill="#80cc80" opacity="0.55"/>
<circle cx="499.6" cy="195.7" r="4.0" fill="#80cc80" opacity="0.55"/>
<circle cx="507.5" cy="190.6" r="4.0" fill="#80cc80" opacity="0.55"/>
<circle cx="516.3" cy="195.7" r="4.0" fill="#80cc80" opacity="0.55"/>
<circle cx="526.9" cy="192.9" r="4.0" fill="#80cc80" opacity="0.55"/>
</g>
<circle cx="513.4" cy="170.8" r="2.8" fill="#1a9a2a" filter="url(#blur05)"/>
<circle cx="513.4" cy="170.8" r="1.0" fill="#e8ffe8"/>
<circle cx="498.8" cy="178.3" r="2.8" fill="#1a9a2a" filter="url(#blur05)"/>
<circle cx="498.8" cy="178.3" r="1.0" fill="#e8ffe8"/>
<circle cx="506.7" cy="180.3" r="2.8" fill="#1a9a2a" filter="url(#blur05)"/>
<circle cx="506.7" cy="180.3" r="1.0" fill="#e8ffe8"/>
<circle cx="516.3" cy="177.5" r="2.8" fill="#1a9a2a" filter="url(#blur05)"/>
<circle cx="516.3" cy="177.5" r="1.0" fill="#e8ffe8"/>
<circle cx="524.2" cy="175.6" r="2.8" fill="#1a9a2a" filter="url(#blur05)"/>
<circle cx="524.2" cy="175.6" r="1.0" fill="#e8ffe8"/>
<circle cx="488" cy="183.5" r="2.8" fill="#1a9a2a" filter="url(#blur05)"/>
<circle cx="488" cy="183.5" r="1.0" fill="#e8ffe8"/>
<circle cx="496" cy="188.3" r="2.8" fill="#1a9a2a" filter="url(#blur05)"/>
<circle cx="496" cy="188.3" r="1.0" fill="#e8ffe8"/>
<circle cx="519.1" cy="186.2" r="2.8" fill="#1a9a2a" filter="url(#blur05)"/>
<circle cx="519.1" cy="186.2" r="1.0" fill="#e8ffe8"/>
<circle cx="525.5" cy="183" r="2.8" fill="#1a9a2a" filter="url(#blur05)"/>
<circle cx="525.5" cy="183" r="1.0" fill="#e8ffe8"/>
<circle cx="536.1" cy="186.2" r="2.8" fill="#1a9a2a" filter="url(#blur05)"/>
<circle cx="536.1" cy="186.2" r="1.0" fill="#e8ffe8"/>
<circle cx="488" cy="193.7" r="2.8" fill="#1a9a2a" filter="url(#blur05)"/>
<circle cx="488" cy="193.7" r="1.0" fill="#e8ffe8"/>
<circle cx="499.6" cy="195.7" r="2.8" fill="#1a9a2a" filter="url(#blur05)"/>
<circle cx="499.6" cy="195.7" r="1.0" fill="#e8ffe8"/>
<circle cx="507.5" cy="190.6" r="2.8" fill="#1a9a2a" filter="url(#blur05)"/>
<circle cx="507.5" cy="190.6" r="1.0" fill="#e8ffe8"/>
<circle cx="516.3" cy="195.7" r="2.8" fill="#1a9a2a" filter="url(#blur05)"/>
<circle cx="516.3" cy="195.7" r="1.0" fill="#e8ffe8"/>
<circle cx="526.9" cy="192.9" r="2.8" fill="#1a9a2a" filter="url(#blur05)"/>
<circle cx="526.9" cy="192.9" r="1.0" fill="#e8ffe8"/>
<text x="521.80" y="210.50" font-family="Liberation Serif, serif" font-size="9.2" font-weight="bold" stroke="#222" stroke-width="0.25" fill="#222" text-anchor="middle" >g-CQDs</text>
<line x1="22.60" y1="264.40" x2="244.40" y2="264.40" stroke="#8a8a8a" stroke-width="1.0" />
<line x1="22.60" y1="281.20" x2="244.40" y2="281.20" stroke="#8a8a8a" stroke-width="1.0" />
<line x1="22.60" y1="364.60" x2="244.40" y2="364.60" stroke="#8a8a8a" stroke-width="1.0" />
<text x="81.50" y="273.60" font-family="Liberation Serif, serif" font-size="7.7" font-weight="bold" stroke="#222" stroke-width="0.25" fill="#222" text-anchor="middle" >C</text>
<text x="146.30" y="273.60" font-family="Liberation Serif, serif" font-size="7.7" font-weight="bold" stroke="#222" stroke-width="0.25" fill="#222" text-anchor="middle" >N</text>
<text x="213.40" y="273.60" font-family="Liberation Serif, serif" font-size="7.7" font-weight="bold" stroke="#222" stroke-width="0.25" fill="#222" text-anchor="middle" >O</text>
<text x="24.80" y="290.30" font-family="Liberation Serif, serif" font-size="7.7" font-weight="bold" stroke="#222" stroke-width="0.25" fill="#222" text-anchor="start" >B-CDs</text>
<text x="81.50" y="290.30" font-family="Liberation Serif, serif" font-size="7.7"  fill="#333" text-anchor="middle" >74.19</text>
<text x="146.60" y="290.30" font-family="Liberation Serif, serif" font-size="7.7"  fill="#333" text-anchor="middle" >12.52</text>
<text x="214.50" y="290.30" font-family="Liberation Serif, serif" font-size="7.7"  fill="#333" text-anchor="middle" >13.29</text>
<text x="24.80" y="306.90" font-family="Liberation Serif, serif" font-size="7.7" font-weight="bold" stroke="#222" stroke-width="0.25" fill="#222" text-anchor="start" >G-CDs</text>
<text x="81.50" y="306.90" font-family="Liberation Serif, serif" font-size="7.7"  fill="#333" text-anchor="middle" >68.81</text>
<text x="146.60" y="306.90" font-family="Liberation Serif, serif" font-size="7.7"  fill="#333" text-anchor="middle" >15.24</text>
<text x="214.50" y="306.90" font-family="Liberation Serif, serif" font-size="7.7"  fill="#333" text-anchor="middle" >15.94</text>
<text x="24.80" y="323.30" font-family="Liberation Serif, serif" font-size="7.7" font-weight="bold" stroke="#222" stroke-width="0.25" fill="#222" text-anchor="start" >Y-CDs</text>
<text x="81.50" y="323.30" font-family="Liberation Serif, serif" font-size="7.7"  fill="#333" text-anchor="middle" >65.69</text>
<text x="146.60" y="323.30" font-family="Liberation Serif, serif" font-size="7.7"  fill="#333" text-anchor="middle" >16.58</text>
<text x="214.50" y="323.30" font-family="Liberation Serif, serif" font-size="7.7"  fill="#333" text-anchor="middle" >17.73</text>
<text x="24.80" y="340.00" font-family="Liberation Serif, serif" font-size="7.7" font-weight="bold" stroke="#222" stroke-width="0.25" fill="#222" text-anchor="start" >O-CDs</text>
<text x="81.50" y="340.00" font-family="Liberation Serif, serif" font-size="7.7"  fill="#333" text-anchor="middle" >70.45</text>
<text x="146.60" y="340.00" font-family="Liberation Serif, serif" font-size="7.7"  fill="#333" text-anchor="middle" >17.08</text>
<text x="214.50" y="340.00" font-family="Liberation Serif, serif" font-size="7.7"  fill="#333" text-anchor="middle" >12.47</text>
<text x="24.80" y="356.40" font-family="Liberation Serif, serif" font-size="7.7" font-weight="bold" stroke="#222" stroke-width="0.25" fill="#222" text-anchor="start" >R-CDs</text>
<text x="81.50" y="356.40" font-family="Liberation Serif, serif" font-size="7.7"  fill="#333" text-anchor="middle" >66.61</text>
<text x="146.60" y="356.40" font-family="Liberation Serif, serif" font-size="7.7"  fill="#333" text-anchor="middle" >19.40</text>
<text x="214.50" y="356.40" font-family="Liberation Serif, serif" font-size="7.7"  fill="#333" text-anchor="middle" >13.99</text>
<rect x="265.8" y="242.4" width="129.09999999999997" height="103.99999999999997" fill="none" stroke="#5a5a5a" stroke-width="1.3"/>
<line x1="268.27" y1="346.40" x2="268.27" y2="348.00" stroke="#5a5a5a" stroke-width="0.8" />
<line x1="279.20" y1="346.40" x2="279.20" y2="348.00" stroke="#5a5a5a" stroke-width="0.8" />
<line x1="290.12" y1="346.40" x2="290.12" y2="348.00" stroke="#5a5a5a" stroke-width="0.8" />
<line x1="301.05" y1="346.40" x2="301.05" y2="348.00" stroke="#5a5a5a" stroke-width="0.8" />
<line x1="311.98" y1="346.40" x2="311.98" y2="348.00" stroke="#5a5a5a" stroke-width="0.8" />
<line x1="322.90" y1="346.40" x2="322.90" y2="348.00" stroke="#5a5a5a" stroke-width="0.8" />
<line x1="333.82" y1="346.40" x2="333.82" y2="348.00" stroke="#5a5a5a" stroke-width="0.8" />
<line x1="344.75" y1="346.40" x2="344.75" y2="348.00" stroke="#5a5a5a" stroke-width="0.8" />
<line x1="355.68" y1="346.40" x2="355.68" y2="348.00" stroke="#5a5a5a" stroke-width="0.8" />
<line x1="366.60" y1="346.40" x2="366.60" y2="348.00" stroke="#5a5a5a" stroke-width="0.8" />
<line x1="377.52" y1="346.40" x2="377.52" y2="348.00" stroke="#5a5a5a" stroke-width="0.8" />
<line x1="388.45" y1="346.40" x2="388.45" y2="348.00" stroke="#5a5a5a" stroke-width="0.8" />
<text x="279.20" y="355.20" font-family="Liberation Serif, serif" font-size="5.6" font-weight="bold" stroke="#333" stroke-width="0.25" fill="#333" text-anchor="middle" >3500</text>
<text x="301.05" y="355.20" font-family="Liberation Serif, serif" font-size="5.6" font-weight="bold" stroke="#333" stroke-width="0.25" fill="#333" text-anchor="middle" >3000</text>
<text x="322.90" y="355.20" font-family="Liberation Serif, serif" font-size="5.6" font-weight="bold" stroke="#333" stroke-width="0.25" fill="#333" text-anchor="middle" >2500</text>
<text x="344.75" y="355.20" font-family="Liberation Serif, serif" font-size="5.6" font-weight="bold" stroke="#333" stroke-width="0.25" fill="#333" text-anchor="middle" >2000</text>
<text x="366.60" y="355.20" font-family="Liberation Serif, serif" font-size="5.6" font-weight="bold" stroke="#333" stroke-width="0.25" fill="#333" text-anchor="middle" >1500</text>
<text x="388.45" y="355.20" font-family="Liberation Serif, serif" font-size="5.6" font-weight="bold" stroke="#333" stroke-width="0.25" fill="#333" text-anchor="middle" >1000</text>
<text x="296.4" y="362.9" font-family="Liberation Serif, serif" font-size="8.2" font-weight="bold" fill="#222">Wavenumber (cm<tspan font-size="5" dy="-3">-1</tspan><tspan dy="3">)</tspan></text>
<text transform="translate(262.4,299.1) rotate(-90)" font-family="Liberation Serif, serif" font-size="7.9" font-weight="bold" fill="#222" text-anchor="middle">Transmittance (a.u.)</text>
<path d="M266.00,243.70 C266.90,243.80 269.82,243.02 271.40,244.30 C272.98,245.58 273.92,247.95 275.50,251.40 C277.08,254.85 279.32,261.57 280.90,265.00 C282.48,268.43 283.40,270.08 285.00,272.00 C286.60,273.92 288.83,276.33 290.50,276.50 C292.17,276.67 293.42,274.68 295.00,273.00 C296.58,271.32 298.72,266.28 300.00,266.40 C301.28,266.52 301.78,273.57 302.70,273.70 C303.62,273.83 304.37,269.78 305.50,267.20 C306.63,264.62 308.08,260.57 309.50,258.20 C310.92,255.83 312.17,254.60 314.00,253.00 C315.83,251.40 317.15,250.02 320.50,248.60 C323.85,247.18 328.65,245.27 334.10,244.50 C339.55,243.73 349.57,243.77 353.20,244.00 C356.83,244.23 355.08,242.85 355.90,245.90 C356.72,248.95 357.33,255.48 358.10,262.30 C358.87,269.12 359.60,284.98 360.50,286.80 C361.40,288.62 362.53,277.38 363.50,273.20 C364.47,269.02 365.38,262.83 366.30,261.70 C367.22,260.57 368.10,264.12 369.00,266.40 C369.90,268.68 370.70,275.87 371.70,275.40 C372.70,274.93 373.77,266.15 375.00,263.60 C376.23,261.05 378.10,260.32 379.10,260.10 C380.10,259.88 380.10,263.30 381.00,262.30 C381.90,261.30 382.77,256.92 384.50,254.10 C386.23,251.28 389.77,247.12 391.40,245.40 C393.03,243.68 393.82,244.07 394.30,243.80" fill="none" stroke="#4646ff" stroke-width="1.3" stroke-linejoin="round"/>
<path d="M266.00,284.60 C266.67,284.67 268.20,284.63 270.00,285.00 C271.80,285.37 274.63,285.97 276.80,286.80 C278.97,287.63 280.72,289.18 283.00,290.00 C285.28,290.82 287.67,291.92 290.50,291.70 C293.33,291.48 297.83,288.73 300.00,288.70 C302.17,288.67 301.92,291.58 303.50,291.50 C305.08,291.42 305.33,289.07 309.50,288.20 C313.67,287.33 324.97,286.85 328.50,286.30 C332.03,285.75 329.95,284.92 330.70,284.90 C331.45,284.88 328.80,285.97 333.00,286.20 C337.20,286.43 351.73,285.75 355.90,286.30 C360.07,286.85 357.27,287.58 358.00,289.50 C358.73,291.42 359.55,297.38 360.30,297.80 C361.05,298.22 361.62,293.70 362.50,292.00 C363.38,290.30 364.68,287.85 365.60,287.60 C366.52,287.35 367.27,290.13 368.00,290.50 C368.73,290.87 369.43,289.48 370.00,289.80 C370.57,290.12 370.73,292.37 371.40,292.40 C372.07,292.43 373.23,290.27 374.00,290.00 C374.77,289.73 375.00,290.87 376.00,290.80 C377.00,290.73 378.33,289.97 380.00,289.60 C381.67,289.23 383.62,289.15 386.00,288.60 C388.38,288.05 392.92,286.68 394.30,286.30" fill="none" stroke="#1ee81e" stroke-width="1.3" stroke-linejoin="round"/>
<path d="M266.00,301.80 C266.67,302.17 268.65,302.87 270.00,304.00 C271.35,305.13 272.85,307.02 274.10,308.60 C275.35,310.18 276.37,312.22 277.50,313.50 C278.63,314.78 279.82,315.97 280.90,316.30 C281.98,316.63 282.87,316.10 284.00,315.50 C285.13,314.90 285.27,314.30 287.70,312.70 C290.13,311.10 294.97,307.48 298.60,305.90 C302.23,304.32 304.52,303.83 309.50,303.20 C314.48,302.57 324.97,302.48 328.50,302.10 C332.03,301.72 329.95,300.92 330.70,300.90 C331.45,300.88 328.80,301.82 333.00,302.00 C337.20,302.18 351.65,301.80 355.90,302.00 C360.15,302.20 357.45,301.93 358.50,303.20 C359.55,304.47 361.20,309.47 362.20,309.60 C363.20,309.73 363.73,305.35 364.50,304.00 C365.27,302.65 365.88,301.80 366.80,301.50 C367.72,301.20 368.90,301.58 370.00,302.20 C371.10,302.82 372.57,305.13 373.40,305.20 C374.23,305.27 373.57,303.00 375.00,302.60 C376.43,302.20 380.20,302.37 382.00,302.80 C383.80,303.23 384.63,305.17 385.80,305.20 C386.97,305.23 387.58,303.62 389.00,303.00 C390.42,302.38 393.42,301.75 394.30,301.50" fill="none" stroke="#f6ee1e" stroke-width="1.3" stroke-linejoin="round"/>
<path d="M266.00,314.10 C266.67,314.42 268.20,315.10 270.00,316.00 C271.80,316.90 273.38,318.23 276.80,319.50 C280.22,320.77 285.05,323.37 290.50,323.60 C295.95,323.83 301.78,322.03 309.50,320.90 C317.22,319.77 329.12,317.97 336.80,316.80 C344.48,315.63 352.30,313.70 355.60,313.90 C358.90,314.10 356.07,315.20 356.60,318.00 C357.13,320.80 358.07,329.32 358.80,330.70 C359.53,332.08 360.15,327.52 361.00,326.30 C361.85,325.08 362.93,324.37 363.90,323.40 C364.87,322.43 365.95,320.27 366.80,320.50 C367.65,320.73 368.27,324.68 369.00,324.80 C369.73,324.92 369.87,322.05 371.20,321.20 C372.53,320.35 374.82,320.07 377.00,319.70 C379.18,319.33 382.35,319.60 384.30,319.00 C386.25,318.40 387.03,316.83 388.70,316.10 C390.37,315.37 393.37,314.85 394.30,314.60" fill="none" stroke="#ff5a5a" stroke-width="1.3" stroke-linejoin="round"/>
<path d="M266.00,333.20 C267.80,333.42 273.63,333.60 276.80,334.50 C279.97,335.40 282.80,337.43 285.00,338.60 C287.20,339.77 288.63,340.82 290.00,341.50 C291.37,342.18 292.03,342.70 293.20,342.70 C294.37,342.70 295.18,342.18 297.00,341.50 C298.82,340.82 299.73,339.77 304.10,338.60 C308.47,337.43 319.08,335.30 323.20,334.50 C327.32,333.70 327.50,334.17 328.80,333.80 C330.10,333.43 330.27,332.33 331.00,332.30 C331.73,332.27 329.10,333.63 333.20,333.60 C337.30,333.57 351.45,331.25 355.60,332.10 C359.75,332.95 357.43,337.85 358.10,338.70 C358.77,339.55 359.00,337.08 359.60,337.20 C360.20,337.32 360.98,339.40 361.70,339.40 C362.42,339.40 363.05,337.32 363.90,337.20 C364.75,337.08 365.83,338.70 366.80,338.70 C367.77,338.70 368.85,336.60 369.70,337.20 C370.55,337.80 371.17,342.42 371.90,342.30 C372.63,342.18 372.52,337.58 374.10,336.50 C375.68,335.42 378.97,336.37 381.40,335.80 C383.83,335.23 386.55,333.72 388.70,333.10 C390.85,332.48 393.37,332.27 394.30,332.10" fill="none" stroke="#f02a2a" stroke-width="1.3" stroke-linejoin="round"/>
<line x1="304.60" y1="278.30" x2="314.80" y2="278.30" stroke="#4646ff" stroke-width="1.4" />
<text x="316.40" y="280.40" font-family="Liberation Serif, serif" font-size="6.2" font-weight="bold" stroke="#333" stroke-width="0.25" fill="#333" text-anchor="start" >B-CDs</text>
<line x1="304.60" y1="295.80" x2="314.80" y2="295.80" stroke="#1ee81e" stroke-width="1.4" />
<text x="316.40" y="297.90" font-family="Liberation Serif, serif" font-size="6.2" font-weight="bold" stroke="#333" stroke-width="0.25" fill="#333" text-anchor="start" >G-CDs</text>
<line x1="304.60" y1="309.70" x2="314.80" y2="309.70" stroke="#f6ee1e" stroke-width="1.4" />
<text x="316.40" y="311.80" font-family="Liberation Serif, serif" font-size="6.2" font-weight="bold" stroke="#333" stroke-width="0.25" fill="#333" text-anchor="start" >Y-CDs</text>
<line x1="304.60" y1="325.20" x2="314.80" y2="325.20" stroke="#ff5a5a" stroke-width="1.4" />
<text x="316.40" y="327.30" font-family="Liberation Serif, serif" font-size="6.2" font-weight="bold" stroke="#333" stroke-width="0.25" fill="#333" text-anchor="start" >O-CDs</text>
<line x1="304.60" y1="340.40" x2="314.80" y2="340.40" stroke="#f02a2a" stroke-width="1.4" />
<text x="316.40" y="342.50" font-family="Liberation Serif, serif" font-size="6.2" font-weight="bold" stroke="#333" stroke-width="0.25" fill="#333" text-anchor="start" >R-CDs</text>
<rect x="409.9" y="242.6" width="129.30000000000007" height="106.00000000000003" fill="none" stroke="#5a5a5a" stroke-width="1.3"/>
<line x1="410.00" y1="348.60" x2="410.00" y2="350.20" stroke="#5a5a5a" stroke-width="0.8" />
<line x1="428.45" y1="348.60" x2="428.45" y2="350.20" stroke="#5a5a5a" stroke-width="0.8" />
<line x1="446.90" y1="348.60" x2="446.90" y2="350.20" stroke="#5a5a5a" stroke-width="0.8" />
<line x1="465.35" y1="348.60" x2="465.35" y2="350.20" stroke="#5a5a5a" stroke-width="0.8" />
<line x1="483.80" y1="348.60" x2="483.80" y2="350.20" stroke="#5a5a5a" stroke-width="0.8" />
<line x1="502.25" y1="348.60" x2="502.25" y2="350.20" stroke="#5a5a5a" stroke-width="0.8" />
<line x1="520.70" y1="348.60" x2="520.70" y2="350.20" stroke="#5a5a5a" stroke-width="0.8" />
<line x1="539.15" y1="348.60" x2="539.15" y2="350.20" stroke="#5a5a5a" stroke-width="0.8" />
<text x="410.00" y="356.60" font-family="Liberation Serif, serif" font-size="5.6" font-weight="bold" stroke="#333" stroke-width="0.25" fill="#333" text-anchor="middle" >0</text>
<text x="446.90" y="356.60" font-family="Liberation Serif, serif" font-size="5.6" font-weight="bold" stroke="#333" stroke-width="0.25" fill="#333" text-anchor="middle" >200</text>
<text x="483.80" y="356.60" font-family="Liberation Serif, serif" font-size="5.6" font-weight="bold" stroke="#333" stroke-width="0.25" fill="#333" text-anchor="middle" >400</text>
<text x="520.70" y="356.60" font-family="Liberation Serif, serif" font-size="5.6" font-weight="bold" stroke="#333" stroke-width="0.25" fill="#333" text-anchor="middle" >600</text>
<text x="471.50" y="363.60" font-family="Liberation Serif, serif" font-size="8.2" font-weight="bold" stroke="#222" stroke-width="0.25" fill="#222" text-anchor="middle" >Binding energy (eV)</text>
<text transform="translate(405.2,294.4) rotate(-90)" font-family="Liberation Serif, serif" font-size="7.7" font-weight="bold" fill="#222" text-anchor="middle">Intensity (a.u.)</text>
<polyline points="410.50,268.34 411.10,267.63 411.70,268.08 412.30,268.35 412.90,267.63 413.50,267.60 414.10,268.08 414.70,267.93 415.30,268.18 415.90,267.73 416.50,267.96 417.10,268.18 417.70,267.84 418.30,267.68 418.90,267.65 419.50,267.72 420.10,267.74 420.70,268.13 421.30,268.02 421.90,267.97 422.50,267.84 423.10,268.19 423.70,268.28 424.30,268.41 424.90,267.95 425.50,267.67 426.10,267.65 426.70,267.65 427.30,267.93 427.90,268.32 428.50,268.05 429.10,268.22 429.70,267.90 430.30,268.23 430.90,267.84 431.50,268.26 432.10,267.65 432.70,268.17 433.30,267.74 433.90,268.03 434.50,267.95 435.10,267.85 435.70,268.20 436.30,267.98 436.90,268.11 437.50,267.79 438.10,268.11 438.70,267.92 439.30,267.90 439.90,267.97 440.50,268.25 441.10,267.63 441.70,267.74 442.30,267.63 442.90,268.09 443.50,267.88 444.10,267.86 444.70,268.38 445.30,267.62 445.42,268.21 445.54,268.16 445.66,268.36 445.78,267.83 445.90,268.19 446.02,268.08 446.14,268.26 446.26,268.38 446.38,267.63 446.50,268.27 446.62,267.67 446.74,268.18 446.86,267.97 446.98,268.23 447.10,268.24 447.22,268.35 447.34,268.26 447.46,267.69 447.58,268.00 447.70,267.59 447.82,268.36 447.94,267.83 448.06,268.16 448.66,267.71 449.26,267.78 449.86,268.30 450.46,267.97 451.06,268.24 451.66,268.08 452.26,268.01 452.86,267.91 453.46,267.71 454.06,267.92 454.66,268.13 455.26,267.98 455.86,268.04 456.46,267.71 457.06,267.94 457.66,267.67 458.26,267.64 458.86,268.10 459.46,267.76 460.06,267.93 460.66,268.41 461.26,268.39 461.38,267.70 461.50,267.55 461.62,267.30 461.74,265.95 461.86,261.37 461.98,255.06 462.10,248.98 462.22,246.77 462.34,249.96 462.46,255.43 462.58,260.34 462.70,262.82 462.82,263.46 462.94,263.33 463.06,263.54 463.18,263.33 463.30,263.38 463.42,263.42 463.54,263.94 463.66,263.34 463.78,263.23 464.38,263.39 464.98,263.39 465.58,263.60 466.18,263.69 466.78,263.21 467.38,263.50 467.98,263.12 468.58,263.08 469.18,263.80 469.78,263.23 470.38,263.39 470.98,263.31 471.58,263.72 472.18,263.16 472.78,262.99 473.38,263.43 473.98,263.61 474.58,263.06 475.18,262.94 475.78,263.29 476.38,262.99 476.98,263.33 477.58,263.45 478.18,263.34 478.78,262.77 479.38,263.28 479.98,263.33 480.58,263.01 481.18,262.73 481.78,262.96 482.38,262.70 482.50,263.50 482.62,262.68 482.74,263.21 482.86,263.16 482.98,262.42 483.10,261.01 483.22,258.73 483.34,257.35 483.46,257.85 483.58,259.09 483.70,260.89 483.82,262.42 483.94,262.87 484.06,262.92 484.18,263.27 484.30,263.16 484.42,262.73 484.54,263.04 484.66,263.14 484.78,262.92 484.90,262.81 485.50,263.40 486.10,263.11 486.70,262.88 487.30,262.56 487.90,263.12 488.50,263.22 489.10,262.81 489.70,262.46 490.30,263.07 490.90,263.08 491.50,262.93 492.10,262.70 492.70,262.69 493.30,263.13 493.90,262.68 494.50,262.43 495.10,262.38 495.70,262.34 496.30,262.73 496.90,262.53 497.50,262.86 498.10,262.30 498.70,262.22 499.30,262.27 499.90,262.81 500.50,262.45 501.10,262.58 501.70,262.86 502.30,262.68 502.90,262.19 503.50,262.32 504.10,262.15 504.70,262.14 505.30,262.03 505.90,262.28 506.50,262.57 506.62,262.60 506.74,262.61 506.86,262.18 506.98,262.59 507.10,261.75 507.22,261.91 507.34,260.04 507.46,258.02 507.58,255.70 507.70,254.28 507.82,255.94 507.94,258.31 508.06,260.67 508.18,261.65 508.30,262.25 508.42,262.11 508.54,262.05 508.66,261.61 508.78,261.76 508.90,261.75 509.02,261.22 509.14,261.88 509.26,261.13 509.86,260.84 510.46,260.56 511.06,261.14 511.66,260.85 512.26,260.13 512.86,260.52 513.46,260.36 514.06,260.19 514.66,260.28 515.26,260.14 515.86,260.36 516.46,260.54 517.06,260.95 517.66,260.92 518.26,260.82 518.86,260.53 519.46,260.46 520.06,260.56 520.66,260.53 521.26,260.62 521.86,260.33 522.46,260.17 523.06,260.97 523.66,260.52 524.26,260.48 524.86,260.61 525.46,260.76 526.06,260.76 526.66,260.72 527.26,260.36 527.86,260.06 528.46,260.29 529.06,260.27 529.66,260.62 530.26,260.35 530.86,260.46 531.46,259.93 532.06,259.99 532.66,260.63 533.26,260.10 533.86,260.43 534.46,259.87 535.06,260.42 535.66,260.52 536.26,260.30 536.86,260.39 537.46,259.74 538.06,259.75" fill="none" stroke="#2828f0" stroke-width="1.1" stroke-linejoin="round" stroke-linecap="round" />
<line x1="411.00" y1="254.40" x2="421.10" y2="254.40" stroke="#2828f0" stroke-width="1.4" />
<text x="425.00" y="256.50" font-family="Liberation Serif, serif" font-size="6.2" font-weight="bold" stroke="#333" stroke-width="0.25" fill="#333" text-anchor="start" >B-CDs</text>
<polyline points="410.50,285.20 411.10,285.26 411.70,284.77 412.30,284.79 412.90,285.42 413.50,284.92 414.10,285.36 414.70,285.35 415.30,285.26 415.90,285.29 416.50,284.87 417.10,285.38 417.70,285.19 418.30,284.89 418.90,284.95 419.50,285.20 420.10,285.44 420.70,285.06 421.30,284.89 421.90,285.49 422.50,285.08 423.10,285.18 423.70,285.20 424.30,284.88 424.90,284.99 425.50,284.85 426.10,285.02 426.70,285.21 427.30,284.91 427.90,284.96 428.50,285.00 429.10,285.35 429.70,284.90 430.30,285.33 430.90,284.72 431.50,285.40 432.10,285.49 432.70,285.06 433.30,285.12 433.90,285.26 434.50,285.43 435.10,284.89 435.70,285.13 436.30,285.40 436.90,285.30 437.50,284.99 438.10,285.00 438.70,284.99 439.30,284.80 439.90,284.96 440.50,284.75 441.10,284.87 441.70,285.20 442.30,285.48 442.90,284.93 443.50,285.11 444.10,284.94 444.70,285.49 445.30,285.41 445.42,285.46 445.54,285.43 445.66,285.30 445.78,285.31 445.90,284.87 446.02,284.92 446.14,285.21 446.26,285.03 446.38,284.99 446.50,284.72 446.62,285.09 446.74,285.19 446.86,284.72 446.98,284.73 447.10,285.16 447.22,284.94 447.34,285.12 447.46,285.13 447.58,285.03 447.70,284.93 447.82,284.79 447.94,284.99 448.06,285.38 448.66,284.81 449.26,284.69 449.86,285.35 450.46,285.27 451.06,285.06 451.66,284.73 452.26,284.80 452.86,285.24 453.46,284.91 454.06,285.36 454.66,285.49 455.26,284.73 455.86,285.37 456.46,285.43 457.06,285.18 457.66,285.17 458.26,285.19 458.86,285.11 459.46,285.09 460.06,284.82 460.66,284.68 461.26,284.73 461.38,284.69 461.50,284.73 461.62,284.33 461.74,283.72 461.86,280.12 461.98,275.79 462.10,271.27 462.22,269.29 462.34,271.78 462.46,276.13 462.58,279.80 462.70,281.60 462.82,281.88 462.94,281.94 463.06,281.90 463.18,281.53 463.30,282.01 463.42,282.32 463.54,282.09 463.66,281.88 463.78,281.93 464.38,281.80 464.98,281.85 465.58,282.22 466.18,281.49 466.78,281.95 467.38,281.52 467.98,282.18 468.58,281.53 469.18,281.83 469.78,281.36 470.38,281.98 470.98,281.98 471.58,281.97 472.18,281.37 472.78,281.16 473.38,281.63 473.98,281.63 474.58,281.61 475.18,281.78 475.78,281.80 476.38,281.20 476.98,281.71 477.58,281.65 478.18,280.94 478.78,281.27 479.38,280.96 479.98,281.55 480.58,281.47 481.18,280.90 481.78,280.84 482.38,281.44 482.50,280.83 482.62,280.98 482.74,281.10 482.86,280.67 482.98,280.27 483.10,278.62 483.22,276.32 483.34,274.56 483.46,274.67 483.58,276.66 483.70,278.94 483.82,279.87 483.94,280.44 484.06,281.37 484.18,280.79 484.30,281.33 484.42,281.24 484.54,280.91 484.66,281.06 484.78,281.04 484.90,280.70 485.50,280.56 486.10,280.60 486.70,281.00 487.30,280.59 487.90,281.24 488.50,280.98 489.10,280.39 489.70,280.45 490.30,280.85 490.90,280.32 491.50,280.31 492.10,280.27 492.70,280.92 493.30,280.81 493.90,280.31 494.50,280.92 495.10,280.54 495.70,280.62 496.30,280.77 496.90,280.64 497.50,280.58 498.10,280.27 498.70,280.13 499.30,280.07 499.90,279.90 500.50,280.64 501.10,280.58 501.70,280.42 502.30,279.83 502.90,280.36 503.50,280.23 504.10,280.07 504.70,279.76 505.30,280.28 505.90,280.13 506.50,279.81 506.62,279.84 506.74,279.77 506.86,279.83 506.98,280.27 507.10,279.30 507.22,279.16 507.34,277.51 507.46,274.45 507.58,271.27 507.70,269.91 507.82,271.23 507.94,274.72 508.06,277.59 508.18,278.52 508.30,279.51 508.42,279.26 508.54,279.52 508.66,279.08 508.78,279.42 508.90,279.46 509.02,279.46 509.14,279.15 509.26,278.82 509.86,278.47 510.46,278.44 511.06,278.12 511.66,278.33 512.26,277.54 512.86,277.59 513.46,277.24 514.06,277.71 514.66,277.90 515.26,278.16 515.86,278.00 516.46,278.43 517.06,278.12 517.66,278.20 518.26,277.84 518.86,278.37 519.46,278.45 520.06,277.83 520.66,277.75 521.26,278.37 521.86,278.20 522.46,277.94 523.06,278.33 523.66,277.94 524.26,277.53 524.86,277.69 525.46,277.47 526.06,278.14 526.66,278.08 527.26,277.93 527.86,277.63 528.46,277.79 529.06,277.53 529.66,277.45 530.26,277.53 530.86,277.60 531.46,277.26 532.06,277.91 532.66,277.59 533.26,277.82 533.86,277.11 534.46,277.47 535.06,277.52 535.66,277.43 536.26,276.92 536.86,277.35 537.46,277.27 538.06,277.54" fill="none" stroke="#18e018" stroke-width="1.1" stroke-linejoin="round" stroke-linecap="round" />
<line x1="411.00" y1="276.70" x2="421.10" y2="276.70" stroke="#18e018" stroke-width="1.4" />
<text x="425.00" y="278.80" font-family="Liberation Serif, serif" font-size="6.2" font-weight="bold" stroke="#333" stroke-width="0.25" fill="#333" text-anchor="start" >G-CDs</text>
<polyline points="410.50,306.36 411.10,306.45 411.70,306.25 412.30,306.37 412.90,306.56 413.50,306.20 414.10,306.17 414.70,306.26 415.30,306.52 415.90,306.57 416.50,306.41 417.10,306.20 417.70,306.61 418.30,306.67 418.90,306.50 419.50,306.59 420.10,306.80 420.70,306.59 421.30,306.49 421.90,306.27 422.50,306.18 423.10,306.78 423.70,306.20 424.30,306.78 424.90,306.82 425.50,306.12 426.10,306.53 426.70,306.14 427.30,306.11 427.90,306.10 428.50,306.23 429.10,306.23 429.70,306.21 430.30,306.07 430.90,306.75 431.50,306.22 432.10,306.72 432.70,306.37 433.30,305.99 433.90,306.70 434.50,306.35 435.10,306.17 435.70,306.80 436.30,306.23 436.90,306.00 437.50,306.20 438.10,306.60 438.70,305.98 439.30,306.18 439.90,306.70 440.50,306.57 441.10,306.47 441.70,306.52 442.30,306.69 442.90,306.54 443.50,306.53 444.10,306.72 444.70,306.52 445.30,306.47 445.42,306.17 445.54,306.13 445.66,306.08 445.78,306.34 445.90,306.20 446.02,306.57 446.14,306.73 446.26,306.18 446.38,306.32 446.50,306.58 446.62,306.11 446.74,306.69 446.86,306.39 446.98,306.00 447.10,306.70 447.22,306.42 447.34,306.54 447.46,306.71 447.58,306.73 447.70,306.26 447.82,305.99 447.94,306.68 448.06,306.74 448.66,306.07 449.26,306.19 449.86,306.16 450.46,306.58 451.06,306.78 451.66,306.15 452.26,306.27 452.86,306.69 453.46,306.36 454.06,306.15 454.66,306.38 455.26,305.99 455.86,306.65 456.46,306.29 457.06,306.27 457.66,306.60 458.26,306.36 458.86,306.81 459.46,306.13 460.06,306.41 460.66,306.76 461.26,306.59 461.38,306.47 461.50,306.37 461.62,305.49 461.74,303.83 461.86,299.35 461.98,292.46 462.10,286.58 462.22,283.98 462.34,287.26 462.46,293.22 462.58,297.88 462.70,300.56 462.82,301.25 462.94,301.51 463.06,301.59 463.18,301.61 463.30,301.59 463.42,301.17 463.54,300.92 463.66,301.56 463.78,300.84 464.38,301.45 464.98,300.94 465.58,301.30 466.18,301.34 466.78,301.39 467.38,300.81 467.98,301.22 468.58,301.34 469.18,301.28 469.78,300.94 470.38,301.40 470.98,301.18 471.58,301.07 472.18,301.15 472.78,300.87 473.38,301.11 473.98,300.62 474.58,300.99 475.18,300.96 475.78,301.18 476.38,300.90 476.98,300.71 477.58,300.96 478.18,300.93 478.78,300.54 479.38,300.76 479.98,300.46 480.58,300.57 481.18,300.67 481.78,300.19 482.38,300.85 482.50,300.22 482.62,300.33 482.74,300.36 482.86,299.92 482.98,299.75 483.10,298.31 483.22,297.13 483.34,295.59 483.46,295.70 483.58,297.38 483.70,299.06 483.82,299.68 483.94,299.96 484.06,300.25 484.18,300.53 484.30,300.50 484.42,300.73 484.54,300.17 484.66,300.38 484.78,300.66 484.90,300.17 485.50,300.31 486.10,300.40 486.70,300.44 487.30,300.48 487.90,300.70 488.50,299.93 489.10,300.59 489.70,300.27 490.30,300.32 490.90,300.01 491.50,300.15 492.10,299.89 492.70,299.75 493.30,300.37 493.90,300.20 494.50,299.72 495.10,299.69 495.70,299.92 496.30,300.24 496.90,299.92 497.50,299.97 498.10,299.88 498.70,300.21 499.30,300.02 499.90,299.61 500.50,299.52 501.10,299.86 501.70,299.95 502.30,299.45 502.90,299.56 503.50,299.85 504.10,299.66 504.70,299.47 505.30,299.58 505.90,299.53 506.50,299.98 506.62,299.71 506.74,299.29 506.86,299.42 506.98,299.60 507.10,298.81 507.22,297.93 507.34,296.34 507.46,292.98 507.58,289.11 507.70,286.98 507.82,289.11 507.94,293.13 508.06,296.08 508.18,298.07 508.30,298.96 508.42,298.86 508.54,298.80 508.66,299.19 508.78,298.83 508.90,299.11 509.02,298.83 509.14,299.04 509.26,298.42 509.86,298.00 510.46,297.82 511.06,297.53 511.66,297.56 512.26,297.42 512.86,297.33 513.46,297.07 514.06,297.59 514.66,297.58 515.26,297.28 515.86,297.32 516.46,297.68 517.06,297.44 517.66,297.53 518.26,297.97 518.86,297.46 519.46,298.15 520.06,297.38 520.66,298.12 521.26,297.60 521.86,297.71 522.46,297.56 523.06,297.68 523.66,297.50 524.26,297.24 524.86,297.16 525.46,297.79 526.06,297.47 526.66,297.69 527.26,297.08 527.86,297.43 528.46,297.44 529.06,297.27 529.66,297.06 530.26,297.48 530.86,297.47 531.46,297.60 532.06,296.91 532.66,296.85 533.26,297.32 533.86,297.29 534.46,296.89 535.06,297.28 535.66,297.43 536.26,297.03 536.86,296.73 537.46,297.41 538.06,296.61" fill="none" stroke="#f4ec10" stroke-width="1.1" stroke-linejoin="round" stroke-linecap="round" />
<line x1="411.00" y1="298.30" x2="421.10" y2="298.30" stroke="#f4ec10" stroke-width="1.4" />
<text x="425.00" y="300.40" font-family="Liberation Serif, serif" font-size="6.2" font-weight="bold" stroke="#333" stroke-width="0.25" fill="#333" text-anchor="start" >Y-CDs</text>
<polyline points="410.50,327.21 411.10,326.60 411.70,326.74 412.30,327.08 412.90,327.20 413.50,326.64 414.10,326.51 414.70,326.50 415.30,326.96 415.90,326.97 416.50,327.25 417.10,326.90 417.70,326.92 418.30,327.17 418.90,327.13 419.50,326.83 420.10,327.06 420.70,326.82 421.30,326.54 421.90,327.05 422.50,326.98 423.10,327.31 423.70,327.03 424.30,326.61 424.90,327.13 425.50,326.94 426.10,326.55 426.70,326.88 427.30,327.23 427.90,327.01 428.50,326.84 429.10,326.49 429.70,327.04 430.30,327.31 430.90,327.20 431.50,326.66 432.10,326.58 432.70,326.88 433.30,326.71 433.90,326.96 434.50,326.86 435.10,327.11 435.70,327.26 436.30,326.79 436.90,327.11 437.50,327.06 438.10,326.60 438.70,327.12 439.30,326.73 439.90,326.95 440.50,326.90 441.10,327.04 441.70,327.23 442.30,327.25 442.90,326.52 443.50,326.51 444.10,326.53 444.70,327.22 445.30,327.06 445.42,327.00 445.54,326.81 445.66,326.74 445.78,326.98 445.90,327.28 446.02,327.18 446.14,326.99 446.26,326.75 446.38,327.28 446.50,327.09 446.62,326.87 446.74,326.62 446.86,327.29 446.98,326.58 447.10,327.28 447.22,326.62 447.34,327.15 447.46,326.88 447.58,327.13 447.70,326.86 447.82,326.71 447.94,327.11 448.06,326.76 448.66,326.72 449.26,327.00 449.86,327.03 450.46,327.15 451.06,326.98 451.66,327.21 452.26,327.09 452.86,326.49 453.46,326.61 454.06,327.18 454.66,326.97 455.26,327.30 455.86,326.69 456.46,326.81 457.06,326.80 457.66,327.13 458.26,326.68 458.86,326.86 459.46,327.06 460.06,326.75 460.66,326.71 461.26,326.61 461.38,327.23 461.50,327.00 461.62,326.56 461.74,324.69 461.86,321.08 461.98,315.92 462.10,310.48 462.22,307.72 462.34,310.97 462.46,315.68 462.58,319.51 462.70,321.66 462.82,321.82 462.94,321.57 463.06,321.62 463.18,321.59 463.30,321.50 463.42,321.84 463.54,321.79 463.66,322.01 463.78,321.44 464.38,321.23 464.98,321.51 465.58,321.74 466.18,321.89 466.78,321.58 467.38,321.06 467.98,321.34 468.58,321.44 469.18,321.41 469.78,321.22 470.38,320.95 470.98,321.20 471.58,321.27 472.18,321.02 472.78,321.47 473.38,321.00 473.98,321.13 474.58,320.84 475.18,320.82 475.78,320.68 476.38,321.25 476.98,320.79 477.58,321.00 478.18,320.78 478.78,321.10 479.38,321.14 479.98,320.59 480.58,321.13 481.18,320.74 481.78,321.02 482.38,320.57 482.50,320.64 482.62,320.30 482.74,320.43 482.86,319.91 482.98,319.21 483.10,317.53 483.22,314.41 483.34,312.62 483.46,313.59 483.58,315.68 483.70,318.25 483.82,319.51 483.94,320.74 484.06,320.37 484.18,320.24 484.30,320.53 484.42,320.65 484.54,320.65 484.66,320.25 484.78,320.84 484.90,320.41 485.50,320.93 486.10,320.38 486.70,320.05 487.30,320.03 487.90,320.28 488.50,320.53 489.10,320.31 489.70,320.58 490.30,320.59 490.90,320.53 491.50,320.31 492.10,320.52 492.70,320.31 493.30,319.76 493.90,319.92 494.50,319.81 495.10,319.66 495.70,320.33 496.30,319.95 496.90,319.64 497.50,320.17 498.10,319.74 498.70,319.59 499.30,319.97 499.90,319.48 500.50,320.09 501.10,320.06 501.70,319.29 502.30,319.67 502.90,319.20 503.50,319.91 504.10,319.32 504.70,319.51 505.30,319.67 505.90,319.65 506.50,319.39 506.62,319.06 506.74,319.23 506.86,318.96 506.98,319.07 507.10,319.29 507.22,318.38 507.34,316.39 507.46,313.48 507.58,310.13 507.70,308.73 507.82,310.30 507.94,313.54 508.06,316.53 508.18,318.23 508.30,319.15 508.42,319.34 508.54,319.28 508.66,318.83 508.78,319.12 508.90,318.93 509.02,318.30 509.14,318.77 509.26,318.04 509.86,318.02 510.46,317.70 511.06,317.89 511.66,317.74 512.26,317.68 512.86,317.45 513.46,316.85 514.06,316.51 514.66,316.63 515.26,317.53 515.86,317.13 516.46,317.17 517.06,317.13 517.66,317.36 518.26,317.32 518.86,317.64 519.46,317.15 520.06,317.34 520.66,317.68 521.26,317.27 521.86,316.99 522.46,317.19 523.06,317.01 523.66,316.79 524.26,317.22 524.86,316.96 525.46,317.35 526.06,316.86 526.66,316.71 527.26,316.97 527.86,316.96 528.46,316.65 529.06,316.92 529.66,316.99 530.26,317.09 530.86,317.17 531.46,316.83 532.06,317.03 532.66,316.40 533.26,316.90 533.86,317.05 534.46,316.56 535.06,316.39 535.66,316.34 536.26,316.31 536.86,316.40 537.46,316.39 538.06,316.15" fill="none" stroke="#f85050" stroke-width="1.1" stroke-linejoin="round" stroke-linecap="round" />
<line x1="411.00" y1="319.50" x2="421.10" y2="319.50" stroke="#f85050" stroke-width="1.4" />
<text x="425.00" y="321.60" font-family="Liberation Serif, serif" font-size="6.2" font-weight="bold" stroke="#333" stroke-width="0.25" fill="#333" text-anchor="start" >O-CDs</text>
<polyline points="410.50,344.28 411.10,344.40 411.70,343.70 412.30,344.12 412.90,343.95 413.50,344.01 414.10,344.01 414.70,343.95 415.30,344.24 415.90,344.37 416.50,343.82 417.10,343.88 417.70,343.61 418.30,343.92 418.90,343.81 419.50,343.73 420.10,344.29 420.70,344.02 421.30,343.77 421.90,343.73 422.50,344.08 423.10,344.28 423.70,344.33 424.30,344.19 424.90,344.22 425.50,343.73 426.10,343.70 426.70,344.14 427.30,344.11 427.90,343.74 428.50,343.84 429.10,343.59 429.70,344.16 430.30,344.02 430.90,344.29 431.50,344.35 432.10,344.02 432.70,343.87 433.30,343.82 433.90,344.12 434.50,344.37 435.10,343.66 435.70,343.92 436.30,344.22 436.90,343.69 437.50,344.14 438.10,343.79 438.70,344.05 439.30,344.41 439.90,343.61 440.50,344.17 441.10,344.06 441.70,344.30 442.30,343.88 442.90,344.36 443.50,344.39 444.10,343.64 444.70,343.88 445.30,343.79 445.42,344.28 445.54,344.34 445.66,344.23 445.78,344.27 445.90,343.94 446.02,343.98 446.14,343.03 446.26,342.21 446.38,342.04 446.50,341.39 446.62,341.12 446.74,342.32 446.86,342.47 446.98,343.16 447.10,343.40 447.22,344.01 447.34,343.70 447.46,343.84 447.58,344.05 447.70,344.38 447.82,343.60 447.94,344.36 448.06,344.20 448.66,343.80 449.26,344.28 449.86,344.11 450.46,343.97 451.06,343.78 451.66,343.95 452.26,343.87 452.86,343.66 453.46,343.73 454.06,343.81 454.66,343.97 455.26,344.07 455.86,344.22 456.46,343.67 457.06,343.68 457.66,344.32 458.26,344.03 458.86,343.77 459.46,343.77 460.06,344.14 460.66,343.97 461.26,343.91 461.38,344.36 461.50,343.49 461.62,343.63 461.74,342.44 461.86,339.38 461.98,334.40 462.10,329.16 462.22,328.13 462.34,329.45 462.46,333.75 462.58,337.13 462.70,339.09 462.82,339.24 462.94,339.04 463.06,338.85 463.18,339.21 463.30,338.65 463.42,338.72 463.54,338.85 463.66,338.65 463.78,338.50 464.38,338.95 464.98,338.68 465.58,339.09 466.18,338.89 466.78,338.32 467.38,338.38 467.98,338.43 468.58,338.52 469.18,338.39 469.78,338.77 470.38,338.37 470.98,338.51 471.58,338.47 472.18,338.95 472.78,338.47 473.38,338.11 473.98,338.87 474.58,338.85 475.18,338.04 475.78,338.71 476.38,338.48 476.98,338.71 477.58,338.44 478.18,338.42 478.78,338.55 479.38,337.88 479.98,337.91 480.58,337.91 481.18,337.80 481.78,337.96 482.38,337.77 482.50,337.83 482.62,338.02 482.74,337.81 482.86,337.48 482.98,337.48 483.10,335.81 483.22,333.55 483.34,331.30 483.46,332.07 483.58,334.32 483.70,336.03 483.82,337.41 483.94,338.25 484.06,338.42 484.18,338.16 484.30,337.90 484.42,338.29 484.54,338.28 484.66,337.90 484.78,338.04 484.90,338.23 485.50,337.81 486.10,337.93 486.70,338.04 487.30,337.87 487.90,338.29 488.50,337.77 489.10,337.90 489.70,338.16 490.30,337.48 490.90,337.71 491.50,337.57 492.10,337.84 492.70,338.18 493.30,337.67 493.90,338.10 494.50,337.43 495.10,338.08 495.70,337.53 496.30,337.50 496.90,337.44 497.50,337.93 498.10,337.35 498.70,337.19 499.30,337.14 499.90,337.56 500.50,337.59 501.10,337.35 501.70,337.59 502.30,337.45 502.90,337.69 503.50,337.27 504.10,337.59 504.70,337.36 505.30,337.73 505.90,337.45 506.50,337.64 506.62,337.20 506.74,337.41 506.86,336.95 506.98,336.96 507.10,337.08 507.22,336.08 507.34,334.81 507.46,331.31 507.58,328.96 507.70,327.79 507.82,329.30 507.94,331.73 508.06,334.82 508.18,336.36 508.30,336.98 508.42,336.83 508.54,336.52 508.66,336.70 508.78,336.73 508.90,336.27 509.02,336.42 509.14,336.82 509.26,336.03 509.86,336.15 510.46,335.56 511.06,335.74 511.66,335.14 512.26,335.56 512.86,335.23 513.46,334.76 514.06,334.79 514.66,334.87 515.26,335.17 515.86,335.39 516.46,335.55 517.06,335.09 517.66,335.74 518.26,335.95 518.86,335.42 519.46,335.33 520.06,335.51 520.66,335.71 521.26,335.38 521.86,335.31 522.46,335.17 523.06,335.64 523.66,335.21 524.26,335.72 524.86,335.40 525.46,335.07 526.06,335.11 526.66,335.64 527.26,335.55 527.86,335.58 528.46,334.77 529.06,334.95 529.66,335.46 530.26,334.94 530.86,335.12 531.46,334.91 532.06,335.14 532.66,334.97 533.26,335.27 533.86,335.17 534.46,334.89 535.06,334.90 535.66,334.52 536.26,335.04 536.86,334.83 537.46,334.43 538.06,334.46" fill="none" stroke="#f01c1c" stroke-width="1.1" stroke-linejoin="round" stroke-linecap="round" />
<line x1="411.00" y1="338.20" x2="421.10" y2="338.20" stroke="#f01c1c" stroke-width="1.4" />
<text x="425.00" y="340.30" font-family="Liberation Serif, serif" font-size="6.2" font-weight="bold" stroke="#333" stroke-width="0.25" fill="#333" text-anchor="start" >R-CDs</text>
<text x="458.60" y="248.40" font-family="Liberation Serif, serif" font-size="6.2" font-weight="bold" stroke="#f02020" stroke-width="0.25" fill="#f02020" text-anchor="start" >C 1s</text>
<text x="479.90" y="256.40" font-family="Liberation Serif, serif" font-size="6.2" font-weight="bold" stroke="#f02020" stroke-width="0.25" fill="#f02020" text-anchor="start" >N 1s</text>
<text x="502.80" y="254.40" font-family="Liberation Serif, serif" font-size="6.2" font-weight="bold" stroke="#f02020" stroke-width="0.25" fill="#f02020" text-anchor="start" >O 1s</text>
</svg>
</body></html>
